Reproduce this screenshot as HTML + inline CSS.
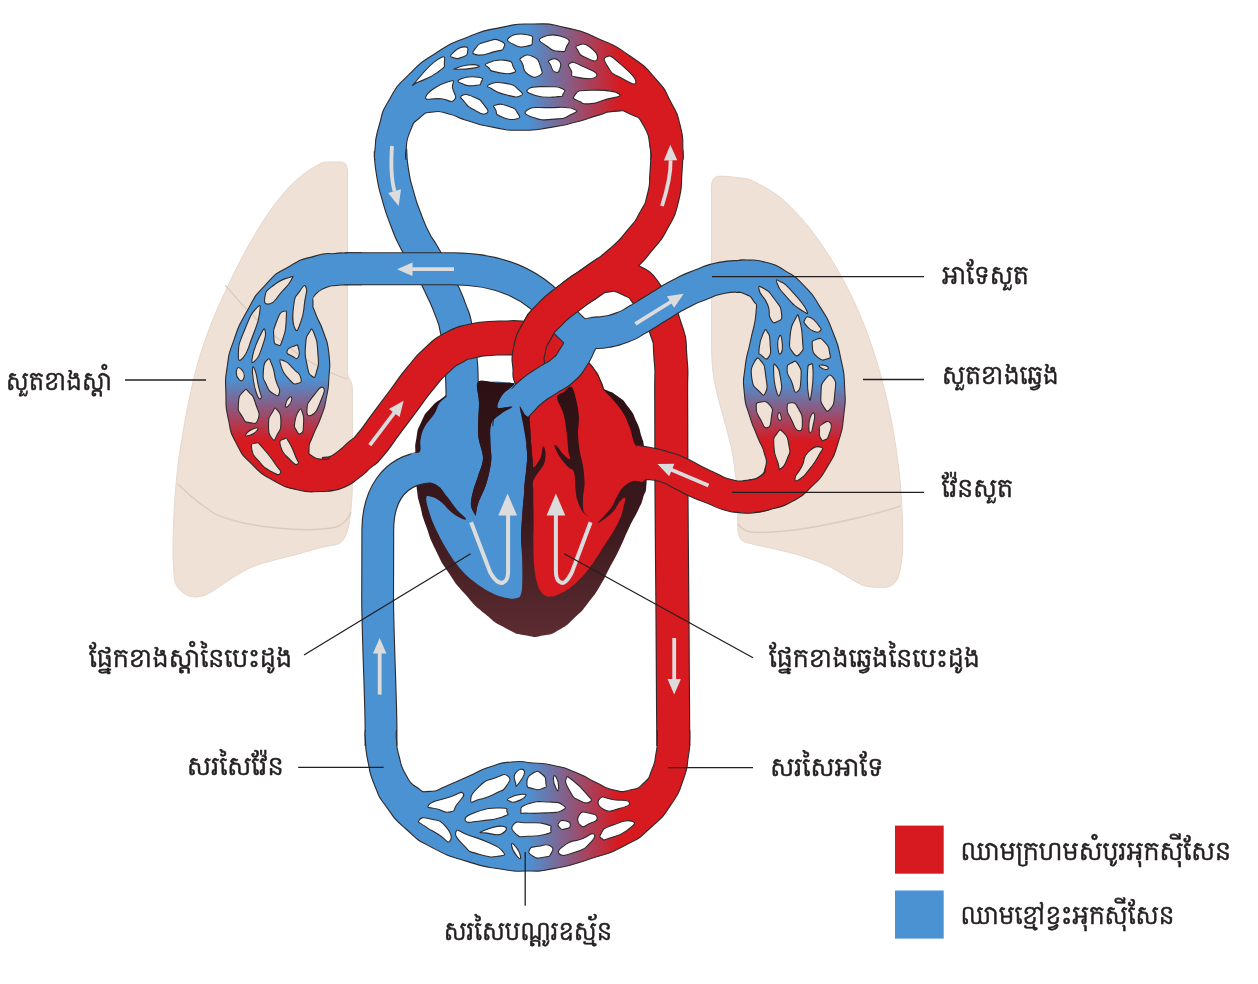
<!DOCTYPE html>
<html lang="km">
<head>
<meta charset="utf-8">
<title>ប្រព័ន្ធចរន្តឈាម</title>
<style>
html,body{margin:0;padding:0;background:#fff;}
body{width:1258px;height:984px;overflow:hidden;}
svg{display:block;}
</style>
</head>
<body>
<svg width="1258" height="984" viewBox="0 0 1258 984">
<rect width="1258" height="984" fill="#ffffff"/>
<defs>
<linearGradient id="gTop" gradientUnits="userSpaceOnUse" x1="528" y1="0" x2="620" y2="0"><stop offset="0" stop-color="#4b92d3"/><stop offset="1" stop-color="#d71920"/></linearGradient>
<linearGradient id="gBot" gradientUnits="userSpaceOnUse" x1="527" y1="0" x2="619" y2="0"><stop offset="0" stop-color="#4b92d3"/><stop offset="1" stop-color="#d71920"/></linearGradient>
<linearGradient id="gL" gradientUnits="userSpaceOnUse" x1="0" y1="378" x2="0" y2="441"><stop offset="0" stop-color="#4b92d3"/><stop offset="1" stop-color="#d71920"/></linearGradient>
<linearGradient id="gR" gradientUnits="userSpaceOnUse" x1="0" y1="381" x2="0" y2="442"><stop offset="0" stop-color="#4b92d3"/><stop offset="1" stop-color="#d71920"/></linearGradient>
<linearGradient id="gHeart" gradientUnits="userSpaceOnUse" x1="0" y1="380" x2="0" y2="635"><stop offset="0" stop-color="#2b1014"/><stop offset="0.55" stop-color="#3a191d"/><stop offset="1" stop-color="#5c2c31"/></linearGradient>
<filter id="fT" x="0" y="0" width="1258" height="984" filterUnits="userSpaceOnUse"><feOffset dx="0" dy="0"/></filter>
</defs>
<path d="M347.5,172 L347.5,374 C349,380 352.4,382 352.4,388 L352.4,482 C352,510 349,530 345,537 C341,545 335,545 330.5,545.6 C318,548 305,552 296,554.6 C270,561 255,565 247.6,569 C232,577 220,587 208.5,593.6 C201,597.5 193,597.5 189,596 C180,592 175.5,586 174.4,579 C172.5,562 173,545 173.4,530 C174,505 176,480 179,457 C184,425 190,390 198.8,359.5 C207,333 216,310 228,286 C240,260 255,232 272,208 C285,190 298,177 311,169 C318,164.5 322,162.5 326,162 L341,162 C345,162 347.5,165 347.5,172 Z" fill="#efe1d6" stroke="#e6d7cb" stroke-width="1"/>
<path d="M711.5,188 C711.5,180 714,176.5 719,176.3 C726,176 732,176.8 738,177.8 C742,178 745,178.3 747.4,178.7 C760,184 771,190 780.8,197.8 C795,210 808,225 819,240.8 C832,259 843,278 852.5,298.2 C862,318 870,339 876.4,360.4 C882,379 887,398 890.8,417.7 C895,440 898.5,462 900.4,484.7 C902,505 903,526 902.7,546.8 C902.5,558 901,569 898,577.9 C894,586 888,588 881.2,587.4 C874,587.5 868,587 862,585 C850,579 840,572 828.6,566 C814,559.5 800,555 785.6,551.6 C772,548 758,546 745,542 C740,540 737.8,535 737.8,527.7 L737.8,503.8 C737,488 735.5,472 733,456 C730.5,443 727,430 723.5,417.7 C720,405 716.5,392 714,379.5 C712,367 711.5,354 711.5,341 Z" fill="#efe1d6" stroke="#e6d7cb" stroke-width="1"/>
<path d="M225.4,285.4 C250,315 275,338 300,355.5 C318,367 334,375 347.5,378.9" fill="none" stroke="#dbcbbf" stroke-width="1.4"/>
<path d="M177.7,484 C190,496 202,506 216,514.3 C236,523 256,526 276.8,528 C300,530.5 322,530 336,527 C343,525 348,519 351,512" fill="none" stroke="#dbcbbf" stroke-width="1.4"/>
<path d="M737.8,524 C742,530 748,532.5 757,532.5 C775,532.5 792,530.5 809.5,527.7 C826,525 842,521.5 857.3,518 C872,514.5 887,510.5 900.4,506.2" fill="none" stroke="#dbcbbf" stroke-width="1.4"/>
<path d="M444.9,396.0 C435.9,403.5 438.9,398.7 431.0,407.4 C423.1,416.1 426.2,411.7 421.3,422.0 C416.4,432.3 418.4,427.3 416.4,438.3 C414.4,449.3 415.5,443.8 415.4,455.0 C415.3,466.2 415.5,460.3 416.0,472.0 C416.5,483.7 415.6,478.6 417.0,490.0 C418.4,501.4 417.3,494.4 420.3,506.3 C423.3,518.2 420.8,511.2 426.0,525.8 C431.2,540.4 428.2,534.5 435.8,550.2 C443.4,565.9 439.1,558.3 448.8,572.9 C458.5,587.5 453.1,580.4 465.0,594.0 C476.9,607.6 471.0,602.2 484.6,613.6 C498.2,625.0 491.6,620.9 505.7,628.2 C519.8,635.5 514.4,633.1 526.8,635.5 C539.2,637.9 532.2,637.4 543.0,635.5 C553.8,633.6 548.4,636.0 559.3,629.8 C570.2,623.6 565.8,626.0 575.6,616.8 C585.4,607.6 580.5,612.5 588.6,602.2 C596.7,591.9 593.2,597.1 600.0,586.0 C606.8,574.9 602.7,581.0 609.0,569.0 C615.3,557.0 612.3,563.7 619.0,550.0 C625.7,536.3 622.6,541.3 629.0,528.0 C635.4,514.7 633.5,519.9 638.2,510.0 C642.9,500.1 640.2,507.0 643.0,498.2 C645.8,489.4 645.7,495.7 646.5,483.6 C647.3,471.5 646.4,474.7 645.5,462.0 C644.6,449.3 645.2,453.9 643.9,445.4 C642.6,436.9 643.9,444.3 641.5,436.4 C639.1,428.5 640.9,431.5 636.6,421.8 C632.3,412.1 635.0,415.9 628.5,407.2 C622.0,398.5 625.2,401.9 617.0,395.8 C608.8,389.7 614.7,394.3 604.0,389.0 C593.3,383.7 601.3,383.3 585.0,380.0 C568.7,376.7 578.7,377.9 555.0,379.0 C531.3,380.1 539.7,382.3 514.0,383.4 C488.3,384.5 496.6,381.7 477.9,382.2 C459.2,382.7 469.0,380.4 458.0,385.0 C447.0,389.6 453.9,388.5 444.9,396.0Z" fill="url(#gHeart)" />
<path d="M381,746 L381,725 C380.5,690 378,640 377.6,600 L377.8,530 C378,498 392,470 428,467" fill="none" stroke="#2e2a2b" stroke-width="32.9"/>
<path d="M381,746 L381,725 C380.5,690 378,640 377.6,600 L377.8,530 C378,498 392,470 428,467" fill="none" stroke="#4b92d3" stroke-width="30.7"/>
<path d="M390.4,150.0 C391.1,157.3 390.0,156.7 392.5,172.0 C395.0,187.3 393.5,180.0 398.0,196.0 C402.5,212.0 400.4,205.3 406.0,220.0 C411.6,234.7 409.2,229.0 414.7,240.0 C420.2,251.0 416.7,243.0 422.5,253.0 C428.3,263.0 426.2,259.1 432.0,270.0 C437.8,280.9 433.9,272.5 440.0,285.7 C446.1,298.9 444.9,294.7 450.4,309.5 C455.9,324.3 453.1,314.5 456.5,330.0 C459.9,345.5 458.7,338.3 460.5,356.0 C462.3,373.7 461.4,364.3 462.0,383.0 C462.6,401.7 462.2,402.3 462.3,412.0" fill="none" stroke="#2e2a2b" stroke-width="33.6" stroke-linecap="butt"/>
<path d="M390.4,150.0 C391.1,157.3 390.0,156.7 392.5,172.0 C395.0,187.3 393.5,180.0 398.0,196.0 C402.5,212.0 400.4,205.3 406.0,220.0 C411.6,234.7 409.2,229.0 414.7,240.0 C420.2,251.0 416.7,243.0 422.5,253.0 C428.3,263.0 426.2,259.1 432.0,270.0 C437.8,280.9 433.9,272.5 440.0,285.7 C446.1,298.9 444.9,294.7 450.4,309.5 C455.9,324.3 453.1,314.5 456.5,330.0 C459.9,345.5 458.7,338.3 460.5,356.0 C462.3,373.7 461.4,364.3 462.0,383.0 C462.6,401.7 462.2,402.3 462.3,412.0" fill="none" stroke="#4b92d3" stroke-width="31.4" stroke-linecap="butt"/>
<path d="M325.0,474.3 C328.7,473.6 328.3,475.4 336.0,472.3 C343.7,469.2 340.0,470.9 348.0,465.0 C356.0,459.1 352.8,460.9 360.0,454.5 C367.2,448.1 360.8,456.2 369.7,445.7 C378.6,435.2 375.3,438.2 386.7,423.0 C398.1,407.8 392.5,415.2 403.8,400.2 C415.1,385.2 409.3,391.6 420.5,378.0 C431.7,364.4 426.3,369.7 437.5,359.5 C448.7,349.3 442.5,353.7 454.0,347.5 C465.5,341.3 460.0,344.0 472.0,341.0 C484.0,338.0 479.0,339.5 490.0,338.5 C501.0,337.5 494.7,338.2 505.0,338.0 C515.3,337.8 510.7,337.2 521.0,338.0 C531.3,338.8 526.3,337.3 536.0,340.5 C545.7,343.7 541.0,341.5 550.0,347.5 C559.0,353.5 554.9,350.4 563.0,358.5 C571.1,366.6 567.7,363.2 574.3,371.7 C580.9,380.2 578.4,375.6 582.8,384.0 C587.2,392.4 585.5,386.7 587.6,397.0 C589.7,407.3 588.5,409.0 589.0,415.0" fill="none" stroke="#2e2a2b" stroke-width="35.1" stroke-linecap="butt"/>
<path d="M325.0,474.3 C328.7,473.6 328.3,475.4 336.0,472.3 C343.7,469.2 340.0,470.9 348.0,465.0 C356.0,459.1 352.8,460.9 360.0,454.5 C367.2,448.1 360.8,456.2 369.7,445.7 C378.6,435.2 375.3,438.2 386.7,423.0 C398.1,407.8 392.5,415.2 403.8,400.2 C415.1,385.2 409.3,391.6 420.5,378.0 C431.7,364.4 426.3,369.7 437.5,359.5 C448.7,349.3 442.5,353.7 454.0,347.5 C465.5,341.3 460.0,344.0 472.0,341.0 C484.0,338.0 479.0,339.5 490.0,338.5 C501.0,337.5 494.7,338.2 505.0,338.0 C515.3,337.8 510.7,337.2 521.0,338.0 C531.3,338.8 526.3,337.3 536.0,340.5 C545.7,343.7 541.0,341.5 550.0,347.5 C559.0,353.5 554.9,350.4 563.0,358.5 C571.1,366.6 567.7,363.2 574.3,371.7 C580.9,380.2 578.4,375.6 582.8,384.0 C587.2,392.4 585.5,386.7 587.6,397.0 C589.7,407.3 588.5,409.0 589.0,415.0" fill="none" stroke="#d71920" stroke-width="32.9" stroke-linecap="butt"/>
<path d="M600.0,276.0 C609.3,277.0 611.0,271.0 628.0,279.0 C645.0,287.0 638.5,283.7 651.0,300.0 C663.5,316.3 659.0,308.7 665.5,328.0 C672.0,347.3 668.6,334.0 670.5,358.0 C672.4,382.0 670.9,359.3 671.2,400.0 C671.5,440.7 671.0,406.7 671.4,480.0 C671.8,553.3 671.9,531.3 672.5,620.0 C673.1,708.7 673.0,704.0 673.3,746.0" fill="none" stroke="#2e2a2b" stroke-width="34.1" stroke-linecap="butt"/>
<path d="M666.8,150.0 C666.5,157.3 667.3,156.1 666.0,172.0 C664.7,187.9 667.0,181.8 663.0,197.8 C659.0,213.8 661.7,205.9 654.0,220.0 C646.3,234.1 651.3,226.3 640.0,240.0 C628.7,253.7 634.7,248.0 620.0,261.0 C605.3,274.0 612.5,267.0 596.0,279.0 C579.5,291.0 586.3,284.8 570.5,297.0 C554.7,309.2 560.0,303.9 548.7,315.5 C537.4,327.1 542.9,320.6 536.6,331.7 C530.3,342.8 532.3,337.1 529.7,348.8 C527.1,360.5 527.7,355.0 528.8,366.7 C529.9,378.4 526.6,369.6 533.0,384.0 C539.4,398.4 543.0,401.3 548.0,410.0" fill="none" stroke="#2e2a2b" stroke-width="33.1" stroke-linecap="butt"/>
<path d="M600.0,276.0 C609.3,277.0 611.0,271.0 628.0,279.0 C645.0,287.0 638.5,283.7 651.0,300.0 C663.5,316.3 659.0,308.7 665.5,328.0 C672.0,347.3 668.6,334.0 670.5,358.0 C672.4,382.0 670.9,359.3 671.2,400.0 C671.5,440.7 671.0,406.7 671.4,480.0 C671.8,553.3 671.9,531.3 672.5,620.0 C673.1,708.7 673.0,704.0 673.3,746.0" fill="none" stroke="#d71920" stroke-width="31.9" stroke-linecap="butt"/>
<path d="M666.8,150.0 C666.5,157.3 667.3,156.1 666.0,172.0 C664.7,187.9 667.0,181.8 663.0,197.8 C659.0,213.8 661.7,205.9 654.0,220.0 C646.3,234.1 651.3,226.3 640.0,240.0 C628.7,253.7 634.7,248.0 620.0,261.0 C605.3,274.0 612.5,267.0 596.0,279.0 C579.5,291.0 586.3,284.8 570.5,297.0 C554.7,309.2 560.0,303.9 548.7,315.5 C537.4,327.1 542.9,320.6 536.6,331.7 C530.3,342.8 532.3,337.1 529.7,348.8 C527.1,360.5 527.7,355.0 528.8,366.7 C529.9,378.4 526.6,369.6 533.0,384.0 C539.4,398.4 543.0,401.3 548.0,410.0" fill="none" stroke="#d71920" stroke-width="30.9" stroke-linecap="butt"/>
<path d="M765.7,466.7 C763.9,469.9 766.6,471.7 760.2,476.3 C753.8,480.9 756.1,479.3 746.5,480.4 C736.9,481.5 741.7,482.0 731.3,479.5 C720.9,477.0 726.0,477.8 715.4,473.0 C704.8,468.2 710.1,470.5 699.5,465.2 C688.9,459.9 694.2,461.7 683.6,457.2 C673.0,452.7 678.3,454.9 667.7,451.7 C657.1,448.5 662.4,449.8 651.8,447.7 C641.2,445.6 641.2,446.1 635.9,445.3 L645.4,479.5 C650.2,480.2 649.6,478.3 659.7,481.5 C669.8,484.7 665.0,483.8 675.6,489.0 C686.2,494.2 680.9,492.2 691.5,497.0 C702.1,501.8 696.8,499.1 707.4,503.3 C718.0,507.5 712.7,506.6 723.3,509.7 C733.9,512.8 728.6,511.6 739.2,512.6 C749.8,513.6 744.4,513.7 755.0,512.6 C765.6,511.5 765.7,510.3 771.0,509.2Z" fill="#d71920"/>
<path d="M765.7,466.7 C763.9,469.9 766.6,471.7 760.2,476.3 C753.8,480.9 756.1,479.3 746.5,480.4 C736.9,481.5 741.7,482.0 731.3,479.5 C720.9,477.0 726.0,477.8 715.4,473.0 C704.8,468.2 710.1,470.5 699.5,465.2 C688.9,459.9 694.2,461.7 683.6,457.2 C673.0,452.7 678.3,454.9 667.7,451.7 C657.1,448.5 662.4,449.8 651.8,447.7 C641.2,445.6 641.2,446.1 635.9,445.3" fill="none" stroke="#2e2a2b" stroke-width="1.1"/>
<path d="M771.0,509.2 C765.7,510.3 765.6,511.5 755.0,512.6 C744.4,513.7 749.8,513.6 739.2,512.6 C728.6,511.6 733.9,512.8 723.3,509.7 C712.7,506.6 718.0,507.5 707.4,503.3 C696.8,499.1 702.1,501.8 691.5,497.0 C680.9,492.2 686.2,494.2 675.6,489.0 C665.0,483.8 669.8,484.7 659.7,481.5 C649.6,478.3 650.2,480.2 645.4,479.5" fill="none" stroke="#2e2a2b" stroke-width="1.1"/>
<path d="M444.9,398.0 C436.2,404.2 438.4,408.1 434.3,413.9 C430.2,419.7 427.4,421.7 424.6,426.9 C421.8,432.1 421.5,434.9 420.5,439.9 C419.5,444.9 421.8,448.8 419.7,452.0 C417.6,455.2 411.9,450.0 410.0,456.0 C408.1,462.0 407.1,476.8 410.0,482.0 C412.9,487.2 419.1,481.3 424.6,482.0 C430.1,482.7 433.1,482.4 437.6,485.4 C442.1,488.4 443.4,491.9 447.3,496.8 C451.2,501.7 453.3,505.4 457.0,509.8 C460.7,514.2 465.3,517.2 466.0,518.8 C466.7,520.4 463.4,519.5 460.3,518.0 C457.2,516.5 454.5,514.8 450.6,511.5 C446.7,508.2 444.7,504.6 440.8,501.7 C436.9,498.8 433.9,497.4 431.0,496.8 C428.1,496.2 426.4,495.0 426.2,498.5 C426.0,502.0 427.8,507.6 430.0,514.4 C432.2,521.2 434.0,525.1 437.4,532.3 C440.8,539.5 443.0,543.4 447.2,550.2 C451.4,557.0 453.3,560.2 458.5,566.4 C463.7,572.6 466.7,575.8 473.2,581.0 C479.7,586.2 484.2,589.0 491.0,592.4 C497.8,595.8 502.1,596.9 507.3,598.0 C512.5,599.1 514.3,598.8 517.0,598.0 C519.7,597.2 519.9,597.4 521.0,594.0 C522.1,590.6 522.1,588.8 522.3,581.0 C522.5,573.2 522.3,563.4 522.0,555.0 C521.7,546.6 520.9,546.9 521.0,538.8 C521.1,530.7 521.6,524.2 522.3,514.4 C523.0,504.6 523.5,500.7 524.4,490.0 C525.3,479.3 526.6,470.4 527.0,461.0 C527.4,451.6 527.0,450.7 526.2,443.2 C525.4,435.7 524.3,431.0 523.0,423.7 C521.7,416.4 518.3,412.1 519.7,406.6 C521.1,401.1 530.9,400.5 530.0,396.0 C529.1,391.5 525.4,386.6 515.0,384.0 C504.6,381.4 492.0,380.2 478.0,383.0 C464.0,385.8 453.6,391.8 444.9,398.0Z" fill="#4b92d3" />
<path d="M529.3,420.0 C527.5,428.7 530.3,433.1 530.9,441.3 C531.5,449.5 532.2,452.3 532.5,460.8 C532.8,469.3 532.3,477.8 532.5,483.6 C532.7,489.4 533.3,483.8 533.3,490.0 C533.3,496.2 532.5,504.6 532.5,514.4 C532.5,524.2 533.0,529.0 533.3,538.8 C533.6,548.6 533.3,554.8 534.0,563.2 C534.7,571.6 535.1,575.2 536.6,581.0 C538.1,586.8 538.9,589.3 541.5,592.4 C544.1,595.5 546.0,596.2 549.6,596.5 C553.2,596.8 554.7,596.1 559.3,594.0 C563.9,591.9 567.2,590.2 572.4,586.0 C577.6,581.8 580.9,578.2 585.4,573.0 C589.9,567.8 591.3,565.4 595.0,560.0 C598.7,554.6 600.4,551.6 604.0,546.0 C607.6,540.4 609.7,537.6 613.0,532.0 C616.3,526.4 618.2,523.1 620.3,518.0 C622.4,512.9 622.6,510.3 623.6,506.3 C624.6,502.3 625.9,499.3 625.2,498.2 C624.5,497.1 622.5,498.5 620.3,501.0 C618.1,503.5 616.7,507.3 614.0,510.5 C611.3,513.7 610.2,514.5 607.0,517.0 C603.8,519.5 598.6,523.2 598.0,523.0 C597.4,522.8 601.2,519.3 604.0,516.0 C606.8,512.7 609.6,510.2 612.2,506.3 C614.8,502.4 614.7,500.5 617.0,496.6 C619.3,492.7 620.3,489.9 623.6,486.8 C626.9,483.7 629.1,482.3 633.3,481.0 C637.5,479.7 642.2,484.1 644.7,480.3 C647.2,476.5 647.9,469.1 646.0,462.0 C644.1,454.9 638.2,451.3 635.0,444.6 C631.8,437.9 632.3,434.5 630.0,428.3 C627.7,422.1 626.8,419.2 623.6,413.7 C620.4,408.2 617.7,405.4 613.8,400.7 C609.9,396.0 606.6,393.9 604.0,390.0 C601.4,386.1 602.4,384.8 600.8,381.0 C599.2,377.2 599.0,373.6 596.0,371.0 C593.0,368.4 593.2,366.6 586.0,368.0 C578.8,369.4 569.2,372.0 560.0,378.0 C550.8,384.0 546.1,389.6 540.0,398.0 C533.9,406.4 531.1,411.3 529.3,420.0Z" fill="#d71920" />
<path d="M583.0,357.0 C585.2,359.2 585.0,358.2 589.5,363.5 C594.0,368.8 592.7,366.7 596.5,373.0 C600.3,379.3 598.5,376.7 601.0,382.5 C603.5,388.3 603.0,387.8 604.0,390.5" fill="none" stroke="#2e2a2b" stroke-width="1.1"/>
<path d="M477.9,382.2 C480.7,378.9 490.0,382.5 496.0,382.8 C502.0,383.1 512.9,381.9 514.0,383.8 C515.1,385.7 505.3,390.5 502.6,394.4 C499.9,398.3 496.1,405.4 497.7,407.4 C499.3,409.4 511.8,405.5 512.4,406.6 C512.9,407.7 504.5,411.0 501.0,413.9 C497.5,416.8 493.0,418.8 491.2,423.7 C489.4,428.6 490.4,437.0 490.4,443.2 C490.4,449.4 491.9,454.2 491.2,461.0 C490.5,467.8 488.5,476.8 486.3,483.8 C484.1,490.9 479.9,498.1 478.2,503.3 C476.4,508.5 476.3,512.8 475.8,514.7 C475.3,516.6 475.8,516.3 475.0,514.7 C474.2,513.1 471.2,509.1 470.9,505.0 C470.6,500.9 472.1,495.2 473.3,490.3 C474.5,485.4 476.6,481.1 478.2,475.7 C479.8,470.3 483.0,464.6 483.0,457.8 C483.0,451.0 478.9,444.2 478.2,435.0 C477.5,425.8 479.1,411.3 479.0,402.5 C478.9,393.7 475.1,385.5 477.9,382.2Z" fill="url(#gHeart)" />
<path d="M519.7,406.6 C520.0,405.0 522.9,411.8 524.5,414.0 C526.1,416.2 528.2,415.4 529.3,420.0 C530.4,424.6 530.4,434.5 530.9,441.3 C531.4,448.1 532.0,456.5 532.5,460.8 C533.0,465.1 532.6,467.8 534.0,467.3 C535.4,466.8 539.1,461.1 540.6,457.6 C542.1,454.1 542.2,447.0 543.0,446.2 C543.8,445.4 545.3,449.7 545.5,452.7 C545.7,455.7 545.4,460.5 544.0,464.0 C542.6,467.5 539.3,470.5 537.4,473.8 C535.5,477.1 533.2,479.2 532.5,483.6 C531.8,488.0 533.3,490.6 533.3,500.0 C533.3,509.4 534.4,533.3 532.5,540.0 C530.6,546.7 523.7,544.3 522.0,540.0 C520.3,535.7 521.9,522.7 522.3,514.4 C522.7,506.1 523.6,498.9 524.4,490.0 C525.2,481.1 526.7,468.8 527.0,461.0 C527.3,453.2 526.9,449.4 526.2,443.2 C525.5,437.0 524.1,429.8 523.0,423.7 C521.9,417.6 519.5,408.2 519.7,406.6Z" fill="url(#gHeart)" />
<path d="M557.0,397.4 C557.1,393.8 561.6,393.8 564.0,392.0 C566.4,390.2 569.4,385.4 571.5,386.8 C573.6,388.2 575.2,395.7 576.4,400.7 C577.6,405.7 578.6,411.5 578.9,416.9 C579.2,422.3 577.9,427.5 578.0,433.2 C578.1,438.9 578.9,445.6 579.7,451.0 C580.5,456.4 582.2,460.3 583.0,465.7 C583.8,471.1 584.6,478.2 584.6,483.6 C584.6,489.0 583.1,493.6 583.0,498.2 C582.9,502.8 582.8,508.1 583.7,511.2 C584.6,514.3 588.9,516.8 588.6,516.8 C588.3,516.8 583.9,513.8 582.0,511.0 C580.1,508.2 578.3,503.3 577.2,499.8 C576.1,496.3 576.1,494.6 575.6,490.0 C575.1,485.4 575.2,476.0 574.0,472.2 C572.8,468.4 570.6,469.7 568.3,467.3 C566.0,464.9 562.5,461.1 560.2,457.6 C557.9,454.1 555.0,448.1 554.5,446.2 C554.0,444.3 555.5,444.8 557.0,446.2 C558.5,447.6 561.2,452.1 563.4,454.3 C565.6,456.5 569.2,459.8 570.0,459.2 C570.8,458.6 568.8,455.3 568.3,451.0 C567.8,446.7 567.5,439.4 566.7,433.2 C565.9,427.0 565.0,419.7 563.4,413.7 C561.8,407.7 556.9,401.0 557.0,397.4Z" fill="url(#gHeart)" />
<path d="M345,268.8 L452,268.8 C500,268.8 536,284 561,318 L584,340" fill="none" stroke="#2e2a2b" stroke-width="33.1"/>
<path d="M508.0,430.0 C509.3,424.7 507.3,423.7 512.0,414.0 C516.7,404.3 514.8,409.1 522.0,401.0 C529.2,392.9 525.0,396.7 533.7,389.7 C542.4,382.7 538.2,386.5 548.0,380.0 C557.8,373.5 554.7,377.5 563.0,370.2 C571.3,362.9 567.3,366.6 573.0,358.0 C578.7,349.4 576.5,351.8 580.2,344.5 C583.9,337.2 582.7,338.8 584.0,336.0" fill="none" stroke="#2e2a2b" stroke-width="32.6"/>
<path d="M584.0,336.0 C587.3,335.0 587.0,334.3 594.0,333.0 C601.0,331.7 595.7,333.8 605.0,332.0 C614.3,330.2 611.0,331.8 622.0,327.6 C633.0,323.4 628.7,324.5 638.0,319.3 C647.3,314.1 641.8,317.0 650.0,312.0 C658.2,307.0 652.6,310.2 662.6,304.2 C672.6,298.2 667.5,300.4 680.0,294.0 C692.5,287.6 686.0,290.4 700.0,285.0 C714.0,279.6 708.0,280.6 722.0,277.8 C736.0,275.0 735.3,277.0 742.0,276.6" fill="none" stroke="#2e2a2b" stroke-width="32.6"/>
<path d="M345,268.8 L452,268.8 C500,268.8 536,284 561,318 L584,340" fill="none" stroke="#4b92d3" stroke-width="30.9"/>
<path d="M508.0,430.0 C509.3,424.7 507.3,423.7 512.0,414.0 C516.7,404.3 514.8,409.1 522.0,401.0 C529.2,392.9 525.0,396.7 533.7,389.7 C542.4,382.7 538.2,386.5 548.0,380.0 C557.8,373.5 554.7,377.5 563.0,370.2 C571.3,362.9 567.3,366.6 573.0,358.0 C578.7,349.4 576.5,351.8 580.2,344.5 C583.9,337.2 582.7,338.8 584.0,336.0" fill="none" stroke="#4b92d3" stroke-width="30.4" stroke-linecap="round"/>
<path d="M584.0,336.0 C587.3,335.0 587.0,334.3 594.0,333.0 C601.0,331.7 595.7,333.8 605.0,332.0 C614.3,330.2 611.0,331.8 622.0,327.6 C633.0,323.4 628.7,324.5 638.0,319.3 C647.3,314.1 641.8,317.0 650.0,312.0 C658.2,307.0 652.6,310.2 662.6,304.2 C672.6,298.2 667.5,300.4 680.0,294.0 C692.5,287.6 686.0,290.4 700.0,285.0 C714.0,279.6 708.0,280.6 722.0,277.8 C736.0,275.0 735.3,277.0 742.0,276.6" fill="none" stroke="#4b92d3" stroke-width="30.4"/>
<circle cx="584" cy="337" r="13.5" fill="#4b92d3"/>
<clipPath id="cpB"><path d="M500,345 L548,345 L560,338 L598,302 L598,250 L560,262 L500,300Z"/></clipPath>
<g clip-path="url(#cpB)"><path d="M666.8,150.0 C666.5,157.3 667.3,156.1 666.0,172.0 C664.7,187.9 667.0,181.8 663.0,197.8 C659.0,213.8 661.7,205.9 654.0,220.0 C646.3,234.1 651.3,226.3 640.0,240.0 C628.7,253.7 634.7,248.0 620.0,261.0 C605.3,274.0 612.5,267.0 596.0,279.0 C579.5,291.0 586.3,284.8 570.5,297.0 C554.7,309.2 560.0,303.9 548.7,315.5 C537.4,327.1 542.9,320.6 536.6,331.7 C530.3,342.8 532.3,337.1 529.7,348.8 C527.1,360.5 527.7,355.0 528.8,366.7 C529.9,378.4 526.6,369.6 533.0,384.0 C539.4,398.4 543.0,401.3 548.0,410.0" fill="none" stroke="#2e2a2b" stroke-width="33.1"/><path d="M666.8,150.0 C666.5,157.3 667.3,156.1 666.0,172.0 C664.7,187.9 667.0,181.8 663.0,197.8 C659.0,213.8 661.7,205.9 654.0,220.0 C646.3,234.1 651.3,226.3 640.0,240.0 C628.7,253.7 634.7,248.0 620.0,261.0 C605.3,274.0 612.5,267.0 596.0,279.0 C579.5,291.0 586.3,284.8 570.5,297.0 C554.7,309.2 560.0,303.9 548.7,315.5 C537.4,327.1 542.9,320.6 536.6,331.7 C530.3,342.8 532.3,337.1 529.7,348.8 C527.1,360.5 527.7,355.0 528.8,366.7 C529.9,378.4 526.6,369.6 533.0,384.0 C539.4,398.4 543.0,401.3 548.0,410.0" fill="none" stroke="#d71920" stroke-width="30.9"/></g>
<path d="M497.0,408.0 C500.2,396.0 507.8,389.6 514.0,388.0 C520.2,386.4 525.4,392.6 528.0,400.0 C530.6,407.4 527.8,415.4 527.0,425.0 C526.2,434.6 529.8,443.4 524.0,448.0 C518.2,452.6 503.4,456.0 498.0,448.0 C492.6,440.0 493.8,420.0 497.0,408.0Z" fill="#4b92d3" />
<path d="M477.9,382.2 C480.7,378.9 490.0,382.5 496.0,382.8 C502.0,383.1 512.9,381.9 514.0,383.8 C515.1,385.7 505.3,390.5 502.6,394.4 C499.9,398.3 496.1,405.4 497.7,407.4 C499.3,409.4 511.8,405.5 512.4,406.6 C512.9,407.7 504.5,411.0 501.0,413.9 C497.5,416.8 493.0,418.8 491.2,423.7 C489.4,428.6 490.4,437.0 490.4,443.2 C490.4,449.4 491.9,454.2 491.2,461.0 C490.5,467.8 488.5,476.8 486.3,483.8 C484.1,490.9 479.9,498.1 478.2,503.3 C476.4,508.5 476.3,512.8 475.8,514.7 C475.3,516.6 475.8,516.3 475.0,514.7 C474.2,513.1 471.2,509.1 470.9,505.0 C470.6,500.9 472.1,495.2 473.3,490.3 C474.5,485.4 476.6,481.1 478.2,475.7 C479.8,470.3 483.0,464.6 483.0,457.8 C483.0,451.0 478.9,444.2 478.2,435.0 C477.5,425.8 479.1,411.3 479.0,402.5 C478.9,393.7 475.1,385.5 477.9,382.2Z" fill="url(#gHeart)" />
<path d="M519.7,406.6 C520.0,405.0 522.9,411.8 524.5,414.0 C526.1,416.2 528.2,415.4 529.3,420.0 C530.4,424.6 530.4,434.5 530.9,441.3 C531.4,448.1 532.2,453.8 532.5,460.8 C532.8,467.9 533.9,478.7 532.5,483.6 C531.1,488.5 525.3,493.8 524.4,490.0 C523.5,486.2 526.7,468.8 527.0,461.0 C527.3,453.2 526.9,449.4 526.2,443.2 C525.5,437.0 524.1,429.8 523.0,423.7 C521.9,417.6 519.5,408.2 519.7,406.6Z" fill="url(#gHeart)" />
<path d="M374.9,160.0 C374.9,156.7 373.5,161.3 374.9,150.0 C376.3,138.7 374.1,143.0 379.0,126.0 C383.9,109.0 379.8,116.0 389.7,99.0 C399.6,82.0 393.3,90.2 408.6,74.9 C423.9,59.6 415.9,65.8 435.7,53.2 C455.5,40.6 446.4,45.5 468.0,37.0 C489.6,28.5 478.8,31.9 500.5,27.6 C522.2,23.3 511.4,24.0 533.0,24.0 C554.6,24.0 543.8,22.8 565.4,27.6 C587.0,32.4 576.3,28.9 597.8,38.4 C619.3,47.9 611.1,42.9 630.0,56.0 C648.9,69.1 641.0,62.3 654.6,77.6 C668.2,92.9 662.2,85.8 670.8,101.9 C679.4,118.0 676.2,110.0 680.3,126.0 C684.4,142.0 682.1,138.7 683.0,150.0 C683.9,161.3 683.0,156.7 683.0,160.0 L650.5,160.0 C650.5,156.7 652.7,161.3 650.5,150.0 C648.3,138.7 650.6,138.0 643.8,126.0 C637.0,114.0 639.9,118.9 630.0,114.0 C620.1,109.1 624.7,110.9 614.0,111.4 C603.3,111.9 610.5,111.9 597.8,115.4 C585.1,118.9 592.3,117.9 576.0,122.0 C559.7,126.1 567.0,124.8 549.0,127.6 C531.0,130.4 540.0,130.3 522.0,130.3 C504.0,130.3 513.0,130.8 495.0,127.6 C477.0,124.4 483.3,125.3 468.0,120.8 C452.7,116.3 460.7,116.9 449.0,114.0 C437.3,111.1 442.8,110.7 433.0,112.0 C423.2,113.3 427.2,111.5 419.5,118.0 C411.8,124.5 414.5,120.9 410.0,131.6 C405.5,142.3 407.3,140.5 406.0,150.0 C404.7,159.5 406.0,156.7 406.0,160.0Z M416.3,81.0 C422.7,73.6 428.6,65.3 437.9,59.4 C447.3,53.5 444.3,59.0 444.3,63.2 C444.3,67.5 446.4,65.9 437.9,72.1 C429.5,78.3 426.1,78.8 418.9,81.8 C411.7,84.7 410.0,88.5 416.3,81.0Z M452.4,53.3 C455.8,49.6 458.7,47.3 463.8,46.9 C468.9,46.5 468.0,48.6 467.6,52.0 C467.2,55.4 467.2,55.1 462.5,57.1 C457.9,59.0 457.0,59.1 453.6,57.8 C450.3,56.6 449.0,56.9 452.4,53.3Z M475.8,47.8 C479.1,43.3 479.1,43.8 487.2,41.5 C495.2,39.1 494.4,38.6 499.9,40.7 C505.4,42.8 505.4,44.2 503.7,47.8 C502.0,51.5 503.7,49.3 494.8,51.6 C485.9,54.0 483.4,56.2 477.0,54.9 C470.7,53.7 472.4,52.3 475.8,47.8Z M509.5,37.3 C513.7,33.9 519.6,33.4 527.2,34.7 C534.9,36.0 532.3,37.3 532.3,41.1 C532.3,44.9 533.2,44.9 527.2,46.1 C521.3,47.4 520.5,47.8 514.5,44.9 C508.6,41.9 505.2,40.6 509.5,37.3Z M542.0,37.4 C547.9,34.5 556.8,34.1 564.8,37.4 C572.9,40.8 567.8,43.0 566.1,47.6 C564.4,52.3 566.1,51.8 559.8,51.4 C553.4,51.0 553.0,51.0 547.1,46.3 C541.1,41.7 536.0,40.4 542.0,37.4Z M578.0,45.5 C581.8,44.3 583.1,42.2 589.5,46.8 C595.8,51.5 598.8,56.1 597.1,59.5 C595.4,62.9 590.7,59.9 584.4,57.0 C578.0,54.0 580.2,54.4 578.0,50.6 C575.9,46.8 574.2,46.8 578.0,45.5Z M606.7,56.7 C610.5,55.5 609.6,54.6 619.4,63.1 C629.1,71.6 635.9,77.5 635.9,82.1 C635.9,86.8 628.7,82.1 619.4,77.1 C610.0,72.0 612.2,73.7 607.9,66.9 C603.7,60.1 602.8,58.0 606.7,56.7Z M456.6,68.1 C460.0,66.6 460.8,65.9 468.0,65.0 C475.2,64.2 476.5,64.5 478.2,65.5 C479.9,66.5 479.9,66.8 473.1,68.1 C466.3,69.3 463.4,69.3 457.9,69.3 C452.4,69.3 453.2,69.5 456.6,68.1Z M487.8,63.0 C493.3,60.4 497.2,59.2 505.6,60.4 C514.1,61.7 511.1,62.5 513.2,66.8 C515.4,71.0 517.9,71.4 512.0,73.1 C506.0,74.8 503.1,73.6 495.5,71.9 C487.8,70.2 491.6,71.0 489.1,68.1 C486.6,65.1 482.3,65.5 487.8,63.0Z M521.4,57.8 C524.8,55.3 526.5,53.6 532.8,56.5 C539.2,59.5 538.3,60.4 540.5,66.7 C542.6,73.1 543.4,73.1 539.2,75.6 C535.0,78.1 533.3,78.1 527.8,74.3 C522.3,70.5 524.8,69.7 522.7,64.2 C520.6,58.7 518.0,60.4 521.4,57.8Z M549.5,60.3 C552.1,58.6 555.0,57.4 558.4,60.3 C561.8,63.3 560.9,65.4 559.7,69.2 C558.4,73.0 557.6,73.0 554.6,71.8 C551.6,70.5 552.5,69.2 550.8,65.4 C549.1,61.6 547.0,62.0 549.5,60.3Z M570.0,63.2 C573.4,61.5 572.6,61.5 581.5,65.7 C590.4,69.9 598.4,72.1 596.7,75.9 C595.0,79.7 584.9,78.8 576.4,77.1 C567.9,75.5 573.4,75.5 571.3,70.8 C569.2,66.1 566.7,64.9 570.0,63.2Z M426.0,96.3 C428.6,90.5 440.0,84.1 448.9,81.5 C457.8,79.0 451.0,82.5 452.7,88.7 C454.4,94.8 457.8,96.7 454.0,100.1 C450.2,103.5 450.6,100.1 441.3,98.8 C432.0,97.6 423.5,102.0 426.0,96.3Z M460.7,79.1 C465.8,76.8 471.7,76.2 478.5,77.3 C485.3,78.4 481.9,79.7 481.0,82.4 C480.2,85.1 481.9,84.8 476.0,85.4 C470.0,86.0 468.3,86.3 463.3,84.2 C458.2,82.0 455.6,81.4 460.7,79.1Z M489.4,84.6 C493.6,82.5 496.2,81.7 505.9,83.4 C515.7,85.1 514.0,85.5 518.6,89.7 C523.3,94.0 524.1,94.4 519.9,96.1 C515.7,97.8 514.8,96.9 505.9,94.8 C497.0,92.7 498.7,93.1 493.2,89.7 C487.7,86.3 485.2,86.8 489.4,84.6Z M528.9,88.6 C533.1,85.6 538.2,86.8 549.2,86.8 C560.2,86.8 557.2,86.3 561.9,88.6 C566.6,90.9 564.9,90.9 563.2,93.7 C561.5,96.4 565.7,96.0 556.8,96.7 C547.9,97.4 545.8,98.4 536.5,95.7 C527.2,93.0 524.6,91.5 528.9,88.6Z M574.7,95.3 C578.0,91.5 575.1,90.6 589.9,90.2 C604.7,89.8 614.9,90.6 619.1,94.0 C623.4,97.4 612.3,97.1 602.6,100.4 C592.9,103.6 597.5,103.2 589.9,103.7 C582.3,104.1 584.8,104.4 579.7,101.6 C574.7,98.8 571.3,99.1 574.7,95.3Z M462.1,95.6 C465.1,94.0 466.3,94.0 473.5,96.9 C480.7,99.9 479.5,99.0 483.7,104.5 C487.9,110.0 489.6,111.7 486.2,113.4 C482.9,115.1 480.7,113.4 473.5,109.6 C466.3,105.8 468.5,106.7 464.6,102.0 C460.8,97.3 459.1,97.3 462.1,95.6Z M495.8,105.0 C500.0,103.7 501.3,103.7 508.5,106.3 C515.7,108.8 514.8,108.4 517.4,112.6 C519.9,116.9 521.6,117.7 516.1,119.0 C510.6,120.3 507.6,119.4 500.9,116.4 C494.1,113.5 497.5,113.9 495.8,110.1 C494.1,106.3 491.5,106.3 495.8,105.0Z M527.7,109.7 C532.8,106.3 534.1,107.9 549.3,107.6 C564.6,107.4 566.7,106.4 573.5,108.9 C580.2,111.5 576.0,111.9 569.6,115.3 C563.3,118.7 566.3,118.2 554.4,119.1 C542.5,119.9 543.0,120.9 534.1,117.8 C525.2,114.7 522.6,113.1 527.7,109.7Z" fill="url(#gTop)" fill-rule="evenodd"/>
<path d="M374.9,160.0 C374.9,156.7 373.5,161.3 374.9,150.0 C376.3,138.7 374.1,143.0 379.0,126.0 C383.9,109.0 379.8,116.0 389.7,99.0 C399.6,82.0 393.3,90.2 408.6,74.9 C423.9,59.6 415.9,65.8 435.7,53.2 C455.5,40.6 446.4,45.5 468.0,37.0 C489.6,28.5 478.8,31.9 500.5,27.6 C522.2,23.3 511.4,24.0 533.0,24.0 C554.6,24.0 543.8,22.8 565.4,27.6 C587.0,32.4 576.3,28.9 597.8,38.4 C619.3,47.9 611.1,42.9 630.0,56.0 C648.9,69.1 641.0,62.3 654.6,77.6 C668.2,92.9 662.2,85.8 670.8,101.9 C679.4,118.0 676.2,110.0 680.3,126.0 C684.4,142.0 682.1,138.7 683.0,150.0 C683.9,161.3 683.0,156.7 683.0,160.0 M650.5,160.0 C650.5,156.7 652.7,161.3 650.5,150.0 C648.3,138.7 650.6,138.0 643.8,126.0 C637.0,114.0 639.9,118.9 630.0,114.0 C620.1,109.1 624.7,110.9 614.0,111.4 C603.3,111.9 610.5,111.9 597.8,115.4 C585.1,118.9 592.3,117.9 576.0,122.0 C559.7,126.1 567.0,124.8 549.0,127.6 C531.0,130.4 540.0,130.3 522.0,130.3 C504.0,130.3 513.0,130.8 495.0,127.6 C477.0,124.4 483.3,125.3 468.0,120.8 C452.7,116.3 460.7,116.9 449.0,114.0 C437.3,111.1 442.8,110.7 433.0,112.0 C423.2,113.3 427.2,111.5 419.5,118.0 C411.8,124.5 414.5,120.9 410.0,131.6 C405.5,142.3 407.3,140.5 406.0,150.0 C404.7,159.5 406.0,156.7 406.0,160.0 M416.3,81.0 C422.7,73.6 428.6,65.3 437.9,59.4 C447.3,53.5 444.3,59.0 444.3,63.2 C444.3,67.5 446.4,65.9 437.9,72.1 C429.5,78.3 426.1,78.8 418.9,81.8 C411.7,84.7 410.0,88.5 416.3,81.0Z M452.4,53.3 C455.8,49.6 458.7,47.3 463.8,46.9 C468.9,46.5 468.0,48.6 467.6,52.0 C467.2,55.4 467.2,55.1 462.5,57.1 C457.9,59.0 457.0,59.1 453.6,57.8 C450.3,56.6 449.0,56.9 452.4,53.3Z M475.8,47.8 C479.1,43.3 479.1,43.8 487.2,41.5 C495.2,39.1 494.4,38.6 499.9,40.7 C505.4,42.8 505.4,44.2 503.7,47.8 C502.0,51.5 503.7,49.3 494.8,51.6 C485.9,54.0 483.4,56.2 477.0,54.9 C470.7,53.7 472.4,52.3 475.8,47.8Z M509.5,37.3 C513.7,33.9 519.6,33.4 527.2,34.7 C534.9,36.0 532.3,37.3 532.3,41.1 C532.3,44.9 533.2,44.9 527.2,46.1 C521.3,47.4 520.5,47.8 514.5,44.9 C508.6,41.9 505.2,40.6 509.5,37.3Z M542.0,37.4 C547.9,34.5 556.8,34.1 564.8,37.4 C572.9,40.8 567.8,43.0 566.1,47.6 C564.4,52.3 566.1,51.8 559.8,51.4 C553.4,51.0 553.0,51.0 547.1,46.3 C541.1,41.7 536.0,40.4 542.0,37.4Z M578.0,45.5 C581.8,44.3 583.1,42.2 589.5,46.8 C595.8,51.5 598.8,56.1 597.1,59.5 C595.4,62.9 590.7,59.9 584.4,57.0 C578.0,54.0 580.2,54.4 578.0,50.6 C575.9,46.8 574.2,46.8 578.0,45.5Z M606.7,56.7 C610.5,55.5 609.6,54.6 619.4,63.1 C629.1,71.6 635.9,77.5 635.9,82.1 C635.9,86.8 628.7,82.1 619.4,77.1 C610.0,72.0 612.2,73.7 607.9,66.9 C603.7,60.1 602.8,58.0 606.7,56.7Z M456.6,68.1 C460.0,66.6 460.8,65.9 468.0,65.0 C475.2,64.2 476.5,64.5 478.2,65.5 C479.9,66.5 479.9,66.8 473.1,68.1 C466.3,69.3 463.4,69.3 457.9,69.3 C452.4,69.3 453.2,69.5 456.6,68.1Z M487.8,63.0 C493.3,60.4 497.2,59.2 505.6,60.4 C514.1,61.7 511.1,62.5 513.2,66.8 C515.4,71.0 517.9,71.4 512.0,73.1 C506.0,74.8 503.1,73.6 495.5,71.9 C487.8,70.2 491.6,71.0 489.1,68.1 C486.6,65.1 482.3,65.5 487.8,63.0Z M521.4,57.8 C524.8,55.3 526.5,53.6 532.8,56.5 C539.2,59.5 538.3,60.4 540.5,66.7 C542.6,73.1 543.4,73.1 539.2,75.6 C535.0,78.1 533.3,78.1 527.8,74.3 C522.3,70.5 524.8,69.7 522.7,64.2 C520.6,58.7 518.0,60.4 521.4,57.8Z M549.5,60.3 C552.1,58.6 555.0,57.4 558.4,60.3 C561.8,63.3 560.9,65.4 559.7,69.2 C558.4,73.0 557.6,73.0 554.6,71.8 C551.6,70.5 552.5,69.2 550.8,65.4 C549.1,61.6 547.0,62.0 549.5,60.3Z M570.0,63.2 C573.4,61.5 572.6,61.5 581.5,65.7 C590.4,69.9 598.4,72.1 596.7,75.9 C595.0,79.7 584.9,78.8 576.4,77.1 C567.9,75.5 573.4,75.5 571.3,70.8 C569.2,66.1 566.7,64.9 570.0,63.2Z M426.0,96.3 C428.6,90.5 440.0,84.1 448.9,81.5 C457.8,79.0 451.0,82.5 452.7,88.7 C454.4,94.8 457.8,96.7 454.0,100.1 C450.2,103.5 450.6,100.1 441.3,98.8 C432.0,97.6 423.5,102.0 426.0,96.3Z M460.7,79.1 C465.8,76.8 471.7,76.2 478.5,77.3 C485.3,78.4 481.9,79.7 481.0,82.4 C480.2,85.1 481.9,84.8 476.0,85.4 C470.0,86.0 468.3,86.3 463.3,84.2 C458.2,82.0 455.6,81.4 460.7,79.1Z M489.4,84.6 C493.6,82.5 496.2,81.7 505.9,83.4 C515.7,85.1 514.0,85.5 518.6,89.7 C523.3,94.0 524.1,94.4 519.9,96.1 C515.7,97.8 514.8,96.9 505.9,94.8 C497.0,92.7 498.7,93.1 493.2,89.7 C487.7,86.3 485.2,86.8 489.4,84.6Z M528.9,88.6 C533.1,85.6 538.2,86.8 549.2,86.8 C560.2,86.8 557.2,86.3 561.9,88.6 C566.6,90.9 564.9,90.9 563.2,93.7 C561.5,96.4 565.7,96.0 556.8,96.7 C547.9,97.4 545.8,98.4 536.5,95.7 C527.2,93.0 524.6,91.5 528.9,88.6Z M574.7,95.3 C578.0,91.5 575.1,90.6 589.9,90.2 C604.7,89.8 614.9,90.6 619.1,94.0 C623.4,97.4 612.3,97.1 602.6,100.4 C592.9,103.6 597.5,103.2 589.9,103.7 C582.3,104.1 584.8,104.4 579.7,101.6 C574.7,98.8 571.3,99.1 574.7,95.3Z M462.1,95.6 C465.1,94.0 466.3,94.0 473.5,96.9 C480.7,99.9 479.5,99.0 483.7,104.5 C487.9,110.0 489.6,111.7 486.2,113.4 C482.9,115.1 480.7,113.4 473.5,109.6 C466.3,105.8 468.5,106.7 464.6,102.0 C460.8,97.3 459.1,97.3 462.1,95.6Z M495.8,105.0 C500.0,103.7 501.3,103.7 508.5,106.3 C515.7,108.8 514.8,108.4 517.4,112.6 C519.9,116.9 521.6,117.7 516.1,119.0 C510.6,120.3 507.6,119.4 500.9,116.4 C494.1,113.5 497.5,113.9 495.8,110.1 C494.1,106.3 491.5,106.3 495.8,105.0Z M527.7,109.7 C532.8,106.3 534.1,107.9 549.3,107.6 C564.6,107.4 566.7,106.4 573.5,108.9 C580.2,111.5 576.0,111.9 569.6,115.3 C563.3,118.7 566.3,118.2 554.4,119.1 C542.5,119.9 543.0,120.9 534.1,117.8 C525.2,114.7 522.6,113.1 527.7,109.7Z" fill="none" stroke="#2e2a2b" stroke-width="1.1" stroke-linejoin="round"/>
<path d="M365.4,730.0 C365.4,733.3 364.5,729.5 365.4,740.0 C366.3,750.5 364.8,746.3 368.0,761.6 C371.2,776.9 368.6,770.7 374.9,786.0 C381.2,801.3 376.6,793.3 387.0,807.6 C397.4,821.9 390.7,815.5 406.0,829.0 C421.3,842.5 412.3,837.1 433.0,848.0 C453.7,858.9 445.5,854.6 468.0,861.6 C490.5,868.6 480.6,865.9 500.5,869.0 C520.4,872.1 509.6,871.2 527.6,871.0 C545.6,870.8 533.9,872.4 554.6,868.4 C575.3,864.4 566.3,866.7 589.7,859.0 C613.1,851.3 604.2,856.2 624.9,845.4 C645.6,834.6 636.6,840.0 651.9,826.5 C667.2,813.0 660.4,820.2 670.8,804.9 C681.2,789.6 677.1,796.8 683.0,780.5 C688.9,764.2 686.2,769.5 688.4,756.0 C690.6,742.5 689.3,748.7 689.7,740.0 C690.1,731.3 689.7,733.3 689.7,730.0 L657.3,730.0 C657.3,733.3 657.7,732.2 657.3,740.0 C656.9,747.8 657.8,743.6 656.0,753.5 C654.2,763.4 656.0,759.9 651.9,769.7 C647.8,779.5 651.1,776.2 643.8,783.0 C636.5,789.8 639.9,787.7 630.0,790.0 C620.1,792.3 625.7,792.7 614.0,790.0 C602.3,787.3 607.7,787.9 595.0,782.0 C582.3,776.1 589.5,777.8 576.0,772.4 C562.5,767.0 568.9,768.8 554.6,765.7 C540.3,762.6 547.4,764.2 533.0,763.0 C518.6,761.8 525.8,760.7 511.4,762.0 C497.0,763.3 504.2,762.2 489.7,767.0 C475.2,771.8 482.4,770.2 468.0,776.5 C453.6,782.8 459.2,781.0 446.5,786.0 C433.8,791.0 439.9,791.0 430.0,791.4 C420.1,791.8 424.8,792.8 416.8,787.3 C408.8,781.8 411.9,785.4 406.0,775.0 C400.1,764.6 402.2,767.7 399.0,756.0 C395.8,744.3 397.3,748.7 396.5,740.0 C395.7,731.3 396.5,733.3 396.5,730.0Z M428.8,804.8 C432.2,800.7 437.7,801.0 449.1,797.2 C460.5,793.4 460.5,790.8 463.1,793.4 C465.6,795.9 461.0,798.6 456.7,804.8 C452.5,811.0 456.3,810.4 450.4,811.9 C444.5,813.4 446.1,811.7 438.9,809.4 C431.7,807.0 425.4,808.9 428.8,804.8Z M419.1,820.2 C420.8,817.7 421.6,816.8 430.5,819.0 C439.4,821.1 439.4,819.1 445.8,826.6 C452.1,834.0 452.1,838.8 449.6,841.3 C447.1,843.9 446.2,839.1 438.2,834.2 C430.1,829.3 431.8,831.2 425.5,826.6 C419.1,821.9 417.4,822.8 419.1,820.2Z M470.7,800.1 C470.7,795.7 471.6,793.5 479.6,786.1 C487.7,778.7 485.5,781.4 494.9,778.0 C504.2,774.6 503.7,773.2 507.6,775.9 C511.4,778.6 510.5,780.2 506.3,786.1 C502.1,792.0 503.7,789.3 494.9,793.7 C486.0,798.1 487.7,797.2 479.6,799.3 C471.6,801.4 470.7,804.5 470.7,800.1Z M515.6,772.8 C518.6,768.9 523.6,767.7 524.5,771.5 C525.3,775.3 521.1,780.4 518.1,784.2 C515.2,788.0 516.4,786.7 515.6,782.9 C514.7,779.1 512.6,776.6 515.6,772.8Z M526.9,783.2 C526.9,777.9 528.2,776.0 533.2,773.0 C538.3,770.0 537.9,770.9 542.1,774.3 C546.4,777.6 545.5,778.5 545.9,783.2 C546.4,787.8 547.6,786.4 543.4,788.2 C539.2,790.1 538.7,790.4 533.2,788.7 C527.7,787.0 526.9,788.4 526.9,783.2Z M553.4,778.2 C553.7,774.8 555.0,774.8 556.7,778.2 C558.4,781.5 558.8,784.9 558.5,788.3 C558.2,791.7 557.7,791.7 556.0,788.3 C554.3,784.9 553.2,781.5 553.4,778.2Z M566.1,778.6 C567.4,775.2 567.0,776.1 573.8,781.2 C580.5,786.3 581.0,787.1 586.5,793.9 C592.0,800.7 592.8,799.4 590.3,801.5 C587.7,803.6 585.6,803.6 578.8,800.2 C572.1,796.8 574.2,798.5 569.9,791.3 C565.7,784.1 564.9,782.0 566.1,778.6Z M509.1,798.1 C512.9,795.8 516.6,794.7 521.8,794.3 C527.1,793.9 526.6,794.5 524.9,796.9 C523.2,799.2 521.6,799.9 516.7,801.4 C511.9,803.0 512.9,802.5 510.4,801.4 C507.9,800.3 505.3,800.5 509.1,798.1Z M520.9,811.4 C520.9,808.3 519.2,806.9 528.5,803.8 C537.8,800.7 537.4,801.6 548.8,802.0 C560.2,802.5 558.5,802.2 562.8,805.1 C567.0,808.0 566.2,808.1 561.5,810.7 C556.9,813.2 559.8,811.9 548.8,812.7 C537.8,813.5 537.8,813.6 528.5,813.2 C519.2,812.8 520.9,814.6 520.9,811.4Z M465.5,820.7 C463.9,817.8 465.5,816.1 477.0,811.8 C488.4,807.6 489.9,808.0 499.8,808.0 C509.8,808.0 506.1,808.9 507.0,811.8 C507.8,814.8 510.7,813.9 502.4,816.9 C494.1,819.9 494.3,819.4 482.1,820.7 C469.8,822.0 467.2,823.7 465.5,820.7Z M600.0,798.4 C603.4,795.2 604.3,798.4 614.0,799.7 C623.7,801.0 627.6,799.3 629.2,802.3 C630.9,805.2 627.6,806.2 619.1,808.6 C610.6,811.0 610.2,812.8 603.8,809.4 C597.5,806.0 596.6,801.7 600.0,798.4Z M579.4,814.6 C582.4,810.5 583.7,812.1 589.6,813.3 C595.5,814.6 597.2,815.0 597.2,818.4 C597.2,821.8 595.1,821.1 589.6,823.5 C584.1,825.9 584.1,828.5 580.7,825.5 C577.3,822.6 576.5,818.7 579.4,814.6Z M559.0,822.6 C560.8,820.3 561.5,820.0 565.3,820.8 C569.1,821.7 570.4,822.4 570.4,825.1 C570.4,827.8 568.9,828.1 565.3,828.9 C561.8,829.8 561.8,829.8 559.7,827.7 C557.6,825.6 557.1,824.9 559.0,822.6Z M482.3,831.3 C487.4,829.1 496.3,825.4 502.7,826.3 C509.0,827.1 506.5,831.6 501.4,833.9 C496.3,836.2 493.8,834.0 487.4,833.1 C481.1,832.3 477.2,833.6 482.3,831.3Z M513.9,824.1 C517.7,820.3 517.3,822.8 527.9,822.8 C538.5,822.8 538.0,822.0 545.7,824.1 C553.3,826.2 550.7,825.8 550.7,829.2 C550.7,832.6 553.3,831.9 545.7,834.3 C538.0,836.6 537.6,836.3 527.9,836.3 C518.1,836.3 521.1,838.3 516.4,834.3 C511.8,830.2 510.1,827.9 513.9,824.1Z M601.3,833.1 C604.3,828.6 601.3,829.5 611.5,825.5 C621.7,821.5 626.7,819.5 631.8,821.2 C636.9,822.9 634.4,824.9 626.7,830.6 C619.1,836.3 617.0,835.4 609.0,838.2 C600.9,841.0 605.1,840.7 602.6,839.0 C600.1,837.3 598.4,837.6 601.3,833.1Z M456.1,831.4 C457.8,828.0 457.8,831.4 468.8,835.2 C479.8,839.0 478.1,837.8 489.1,842.8 C500.1,847.9 498.4,846.1 501.8,850.5 C505.2,854.9 506.9,854.8 499.3,856.1 C491.7,857.3 490.8,857.8 479.0,854.3 C467.1,850.7 471.3,853.0 463.7,845.4 C456.1,837.8 454.4,834.8 456.1,831.4Z M511.6,845.7 C511.2,842.5 512.5,842.7 515.4,846.3 C518.4,849.8 520.1,853.2 520.5,856.4 C521.0,859.6 519.7,859.5 516.7,855.9 C513.8,852.4 512.1,849.0 511.6,845.7Z M529.6,849.6 C531.3,846.2 531.8,847.5 538.5,846.3 C545.3,845.0 545.7,843.4 550.0,845.8 C554.2,848.1 553.4,849.6 551.2,853.4 C549.1,857.2 549.5,856.2 543.6,857.2 C537.7,858.2 538.1,859.0 533.5,856.4 C528.8,853.9 528.0,853.0 529.6,849.6Z M559.8,854.2 C556.4,851.7 558.9,849.2 566.1,844.1 C573.3,839.0 572.2,842.4 581.4,839.0 C590.5,835.6 591.0,832.2 593.6,833.9 C596.1,835.6 594.8,838.2 589.0,844.1 C583.2,850.0 586.0,848.3 576.3,851.7 C566.6,855.1 563.2,856.8 559.8,854.2Z" fill="url(#gBot)" fill-rule="evenodd"/>
<path d="M365.4,730.0 C365.4,733.3 364.5,729.5 365.4,740.0 C366.3,750.5 364.8,746.3 368.0,761.6 C371.2,776.9 368.6,770.7 374.9,786.0 C381.2,801.3 376.6,793.3 387.0,807.6 C397.4,821.9 390.7,815.5 406.0,829.0 C421.3,842.5 412.3,837.1 433.0,848.0 C453.7,858.9 445.5,854.6 468.0,861.6 C490.5,868.6 480.6,865.9 500.5,869.0 C520.4,872.1 509.6,871.2 527.6,871.0 C545.6,870.8 533.9,872.4 554.6,868.4 C575.3,864.4 566.3,866.7 589.7,859.0 C613.1,851.3 604.2,856.2 624.9,845.4 C645.6,834.6 636.6,840.0 651.9,826.5 C667.2,813.0 660.4,820.2 670.8,804.9 C681.2,789.6 677.1,796.8 683.0,780.5 C688.9,764.2 686.2,769.5 688.4,756.0 C690.6,742.5 689.3,748.7 689.7,740.0 C690.1,731.3 689.7,733.3 689.7,730.0 M657.3,730.0 C657.3,733.3 657.7,732.2 657.3,740.0 C656.9,747.8 657.8,743.6 656.0,753.5 C654.2,763.4 656.0,759.9 651.9,769.7 C647.8,779.5 651.1,776.2 643.8,783.0 C636.5,789.8 639.9,787.7 630.0,790.0 C620.1,792.3 625.7,792.7 614.0,790.0 C602.3,787.3 607.7,787.9 595.0,782.0 C582.3,776.1 589.5,777.8 576.0,772.4 C562.5,767.0 568.9,768.8 554.6,765.7 C540.3,762.6 547.4,764.2 533.0,763.0 C518.6,761.8 525.8,760.7 511.4,762.0 C497.0,763.3 504.2,762.2 489.7,767.0 C475.2,771.8 482.4,770.2 468.0,776.5 C453.6,782.8 459.2,781.0 446.5,786.0 C433.8,791.0 439.9,791.0 430.0,791.4 C420.1,791.8 424.8,792.8 416.8,787.3 C408.8,781.8 411.9,785.4 406.0,775.0 C400.1,764.6 402.2,767.7 399.0,756.0 C395.8,744.3 397.3,748.7 396.5,740.0 C395.7,731.3 396.5,733.3 396.5,730.0 M428.8,804.8 C432.2,800.7 437.7,801.0 449.1,797.2 C460.5,793.4 460.5,790.8 463.1,793.4 C465.6,795.9 461.0,798.6 456.7,804.8 C452.5,811.0 456.3,810.4 450.4,811.9 C444.5,813.4 446.1,811.7 438.9,809.4 C431.7,807.0 425.4,808.9 428.8,804.8Z M419.1,820.2 C420.8,817.7 421.6,816.8 430.5,819.0 C439.4,821.1 439.4,819.1 445.8,826.6 C452.1,834.0 452.1,838.8 449.6,841.3 C447.1,843.9 446.2,839.1 438.2,834.2 C430.1,829.3 431.8,831.2 425.5,826.6 C419.1,821.9 417.4,822.8 419.1,820.2Z M470.7,800.1 C470.7,795.7 471.6,793.5 479.6,786.1 C487.7,778.7 485.5,781.4 494.9,778.0 C504.2,774.6 503.7,773.2 507.6,775.9 C511.4,778.6 510.5,780.2 506.3,786.1 C502.1,792.0 503.7,789.3 494.9,793.7 C486.0,798.1 487.7,797.2 479.6,799.3 C471.6,801.4 470.7,804.5 470.7,800.1Z M515.6,772.8 C518.6,768.9 523.6,767.7 524.5,771.5 C525.3,775.3 521.1,780.4 518.1,784.2 C515.2,788.0 516.4,786.7 515.6,782.9 C514.7,779.1 512.6,776.6 515.6,772.8Z M526.9,783.2 C526.9,777.9 528.2,776.0 533.2,773.0 C538.3,770.0 537.9,770.9 542.1,774.3 C546.4,777.6 545.5,778.5 545.9,783.2 C546.4,787.8 547.6,786.4 543.4,788.2 C539.2,790.1 538.7,790.4 533.2,788.7 C527.7,787.0 526.9,788.4 526.9,783.2Z M553.4,778.2 C553.7,774.8 555.0,774.8 556.7,778.2 C558.4,781.5 558.8,784.9 558.5,788.3 C558.2,791.7 557.7,791.7 556.0,788.3 C554.3,784.9 553.2,781.5 553.4,778.2Z M566.1,778.6 C567.4,775.2 567.0,776.1 573.8,781.2 C580.5,786.3 581.0,787.1 586.5,793.9 C592.0,800.7 592.8,799.4 590.3,801.5 C587.7,803.6 585.6,803.6 578.8,800.2 C572.1,796.8 574.2,798.5 569.9,791.3 C565.7,784.1 564.9,782.0 566.1,778.6Z M509.1,798.1 C512.9,795.8 516.6,794.7 521.8,794.3 C527.1,793.9 526.6,794.5 524.9,796.9 C523.2,799.2 521.6,799.9 516.7,801.4 C511.9,803.0 512.9,802.5 510.4,801.4 C507.9,800.3 505.3,800.5 509.1,798.1Z M520.9,811.4 C520.9,808.3 519.2,806.9 528.5,803.8 C537.8,800.7 537.4,801.6 548.8,802.0 C560.2,802.5 558.5,802.2 562.8,805.1 C567.0,808.0 566.2,808.1 561.5,810.7 C556.9,813.2 559.8,811.9 548.8,812.7 C537.8,813.5 537.8,813.6 528.5,813.2 C519.2,812.8 520.9,814.6 520.9,811.4Z M465.5,820.7 C463.9,817.8 465.5,816.1 477.0,811.8 C488.4,807.6 489.9,808.0 499.8,808.0 C509.8,808.0 506.1,808.9 507.0,811.8 C507.8,814.8 510.7,813.9 502.4,816.9 C494.1,819.9 494.3,819.4 482.1,820.7 C469.8,822.0 467.2,823.7 465.5,820.7Z M600.0,798.4 C603.4,795.2 604.3,798.4 614.0,799.7 C623.7,801.0 627.6,799.3 629.2,802.3 C630.9,805.2 627.6,806.2 619.1,808.6 C610.6,811.0 610.2,812.8 603.8,809.4 C597.5,806.0 596.6,801.7 600.0,798.4Z M579.4,814.6 C582.4,810.5 583.7,812.1 589.6,813.3 C595.5,814.6 597.2,815.0 597.2,818.4 C597.2,821.8 595.1,821.1 589.6,823.5 C584.1,825.9 584.1,828.5 580.7,825.5 C577.3,822.6 576.5,818.7 579.4,814.6Z M559.0,822.6 C560.8,820.3 561.5,820.0 565.3,820.8 C569.1,821.7 570.4,822.4 570.4,825.1 C570.4,827.8 568.9,828.1 565.3,828.9 C561.8,829.8 561.8,829.8 559.7,827.7 C557.6,825.6 557.1,824.9 559.0,822.6Z M482.3,831.3 C487.4,829.1 496.3,825.4 502.7,826.3 C509.0,827.1 506.5,831.6 501.4,833.9 C496.3,836.2 493.8,834.0 487.4,833.1 C481.1,832.3 477.2,833.6 482.3,831.3Z M513.9,824.1 C517.7,820.3 517.3,822.8 527.9,822.8 C538.5,822.8 538.0,822.0 545.7,824.1 C553.3,826.2 550.7,825.8 550.7,829.2 C550.7,832.6 553.3,831.9 545.7,834.3 C538.0,836.6 537.6,836.3 527.9,836.3 C518.1,836.3 521.1,838.3 516.4,834.3 C511.8,830.2 510.1,827.9 513.9,824.1Z M601.3,833.1 C604.3,828.6 601.3,829.5 611.5,825.5 C621.7,821.5 626.7,819.5 631.8,821.2 C636.9,822.9 634.4,824.9 626.7,830.6 C619.1,836.3 617.0,835.4 609.0,838.2 C600.9,841.0 605.1,840.7 602.6,839.0 C600.1,837.3 598.4,837.6 601.3,833.1Z M456.1,831.4 C457.8,828.0 457.8,831.4 468.8,835.2 C479.8,839.0 478.1,837.8 489.1,842.8 C500.1,847.9 498.4,846.1 501.8,850.5 C505.2,854.9 506.9,854.8 499.3,856.1 C491.7,857.3 490.8,857.8 479.0,854.3 C467.1,850.7 471.3,853.0 463.7,845.4 C456.1,837.8 454.4,834.8 456.1,831.4Z M511.6,845.7 C511.2,842.5 512.5,842.7 515.4,846.3 C518.4,849.8 520.1,853.2 520.5,856.4 C521.0,859.6 519.7,859.5 516.7,855.9 C513.8,852.4 512.1,849.0 511.6,845.7Z M529.6,849.6 C531.3,846.2 531.8,847.5 538.5,846.3 C545.3,845.0 545.7,843.4 550.0,845.8 C554.2,848.1 553.4,849.6 551.2,853.4 C549.1,857.2 549.5,856.2 543.6,857.2 C537.7,858.2 538.1,859.0 533.5,856.4 C528.8,853.9 528.0,853.0 529.6,849.6Z M559.8,854.2 C556.4,851.7 558.9,849.2 566.1,844.1 C573.3,839.0 572.2,842.4 581.4,839.0 C590.5,835.6 591.0,832.2 593.6,833.9 C596.1,835.6 594.8,838.2 589.0,844.1 C583.2,850.0 586.0,848.3 576.3,851.7 C566.6,855.1 563.2,856.8 559.8,854.2Z" fill="none" stroke="#2e2a2b" stroke-width="1.1" stroke-linejoin="round"/>
<path d="M362.0,252.8 C359.3,252.8 359.7,252.8 354.0,252.8 C348.3,252.8 351.3,252.7 345.0,252.9 C338.7,253.1 344.8,252.5 335.0,253.5 C325.2,254.5 330.9,251.6 315.7,255.9 C300.5,260.2 306.0,256.7 289.3,266.4 C272.6,276.1 279.6,269.9 265.5,284.9 C251.4,299.9 257.6,292.8 247.0,311.3 C236.4,329.8 240.4,321.9 233.8,340.4 C227.2,358.9 229.8,349.2 227.2,366.8 C224.6,384.4 225.5,375.6 225.9,393.2 C226.3,410.8 225.0,403.0 228.5,419.7 C232.0,436.4 228.5,428.4 236.4,443.4 C244.3,458.4 240.0,452.3 252.3,464.6 C264.6,476.9 258.4,472.0 273.4,480.4 C288.4,488.8 281.3,486.0 297.2,489.7 C313.1,493.4 309.4,491.4 321.0,491.5 C332.6,491.6 328.3,490.5 332.0,490.0 L330.0,458.0 C327.9,458.4 329.3,459.8 323.6,459.3 C317.9,458.8 317.9,460.1 313.0,456.6 C308.1,453.1 309.0,455.7 309.0,448.7 C309.0,441.7 309.0,446.1 313.0,435.5 C317.0,424.9 316.6,429.3 321.0,417.0 C325.4,404.7 323.6,411.7 326.2,398.5 C328.8,385.3 328.0,392.4 328.9,377.4 C329.8,362.4 330.7,368.6 328.9,353.6 C327.1,338.6 328.0,345.7 323.6,332.5 C319.2,319.3 319.2,323.7 315.7,314.0 C312.2,304.3 313.0,310.0 313.0,303.4 C313.0,296.8 311.3,299.5 315.7,294.2 C320.1,288.9 319.4,290.5 326.2,287.6 C333.0,284.7 329.7,286.4 336.0,285.5 C342.3,284.6 339.0,285.1 345.0,284.9 C351.0,284.7 348.3,284.8 354.0,284.8 C359.7,284.8 359.3,284.8 362.0,284.8Z M265.0,296.4 C266.2,290.1 265.8,291.4 273.7,285.2 C281.6,279.0 282.8,279.4 288.6,277.7 C294.4,276.1 293.6,275.2 291.1,280.2 C288.6,285.2 288.2,284.8 281.1,292.6 C274.1,300.5 275.4,302.6 270.0,303.8 C264.6,305.0 263.8,302.6 265.0,296.4Z M238.4,352.4 C238.8,343.3 238.8,344.5 244.6,330.0 C250.4,315.6 250.8,314.3 255.8,308.9 C260.8,303.5 260.8,304.4 259.5,313.9 C258.3,323.4 257.5,323.0 252.1,337.5 C246.7,352.0 247.9,352.4 243.4,357.4 C238.8,362.3 238.0,361.5 238.4,352.4Z M252.7,355.6 C254.3,347.3 256.0,344.0 260.1,335.7 C264.3,327.5 264.3,327.5 265.1,330.8 C265.9,334.1 265.9,335.7 262.6,345.7 C259.3,355.6 258.5,357.3 255.2,360.6 C251.9,363.9 251.0,363.9 252.7,355.6Z M273.8,337.2 C273.4,329.8 273.0,331.0 276.3,322.3 C279.6,313.6 280.4,312.0 283.7,311.2 C287.0,310.3 286.6,310.3 286.2,319.9 C285.8,329.4 285.4,331.4 282.5,339.7 C279.6,348.0 280.4,345.5 277.5,344.7 C274.6,343.9 274.2,344.7 273.8,337.2Z M294.9,328.4 C292.4,323.4 292.0,318.5 293.6,306.0 C295.3,293.6 295.7,297.3 299.8,291.1 C304.0,284.9 304.4,284.1 306.1,287.4 C307.7,290.7 306.5,289.9 304.8,301.1 C303.2,312.2 304.4,311.8 301.1,320.9 C297.8,330.0 297.4,333.4 294.9,328.4Z M305.5,346.2 C306.3,335.8 306.3,336.6 309.2,332.5 C312.1,328.4 311.3,326.7 314.2,333.7 C317.1,340.8 317.1,341.2 317.9,353.6 C318.8,366.0 318.8,363.6 316.7,371.0 C314.6,378.5 315.0,378.5 311.7,376.0 C308.4,373.5 308.8,373.5 306.8,363.6 C304.7,353.6 304.7,356.5 305.5,346.2Z M287.1,351.0 C287.9,347.7 290.8,347.3 294.5,346.0 C298.2,344.8 297.0,343.5 298.2,347.3 C299.5,351.0 300.3,354.3 298.2,357.2 C296.2,360.1 295.8,358.0 292.0,356.0 C288.3,353.9 286.2,354.3 287.1,351.0Z M236.7,369.7 C237.5,366.4 239.1,367.3 241.6,369.7 C244.1,372.2 244.9,373.9 244.1,377.2 C243.3,380.5 241.6,382.2 239.1,379.7 C236.7,377.2 235.8,373.0 236.7,369.7Z M252.5,372.8 C252.1,365.4 253.0,365.4 255.0,370.3 C257.1,375.3 256.7,378.6 258.8,387.7 C260.8,396.8 262.1,396.0 261.2,397.7 C260.4,399.3 259.2,401.0 256.3,392.7 C253.4,384.4 253.0,380.3 252.5,372.8Z M263.3,372.5 C263.7,364.6 264.2,362.5 267.1,360.0 C269.9,357.6 269.1,358.4 272.0,365.0 C274.9,371.6 273.3,370.8 275.7,379.9 C278.2,389.0 280.3,387.8 279.5,392.3 C278.6,396.9 277.8,396.5 273.3,393.6 C268.7,390.7 269.1,390.7 265.8,383.6 C262.5,376.6 262.9,380.3 263.3,372.5Z M280.7,364.7 C279.0,358.5 279.9,359.3 284.4,361.0 C289.0,362.6 289.0,364.3 294.3,369.6 C299.7,375.0 299.3,372.5 300.6,377.1 C301.8,381.6 301.8,382.5 298.1,383.3 C294.3,384.1 295.2,385.8 289.4,379.6 C283.6,373.4 282.3,370.9 280.7,364.7Z M238.4,404.0 C238.8,395.7 239.6,395.3 243.3,391.6 C247.1,387.9 245.4,388.7 249.5,392.8 C253.7,397.0 252.9,395.3 255.7,404.0 C258.6,412.7 260.3,412.7 258.2,418.9 C256.2,425.1 254.9,423.5 249.5,422.6 C244.2,421.8 245.8,422.6 242.1,416.4 C238.4,410.2 237.9,412.3 238.4,404.0Z M285.5,404.9 C285.9,402.0 287.2,399.2 289.2,397.5 C291.3,395.8 292.1,397.1 291.7,400.0 C291.3,402.9 290.0,404.5 288.0,406.2 C285.9,407.8 285.1,407.8 285.5,404.9Z M307.0,408.6 C307.4,402.4 307.8,403.3 313.2,396.2 C318.5,389.2 320.6,385.9 323.1,387.5 C325.6,389.2 324.3,392.1 320.6,401.2 C316.9,410.3 316.5,412.4 311.9,414.9 C307.4,417.3 306.5,414.9 307.0,408.6Z M268.5,424.9 C268.5,416.2 269.3,417.4 272.2,412.5 C275.1,407.5 274.3,406.7 277.2,410.0 C280.1,413.3 280.9,414.1 280.9,422.4 C280.9,430.7 280.1,429.4 277.2,434.8 C274.3,440.2 275.1,441.8 272.2,438.5 C269.3,435.2 268.5,433.6 268.5,424.9Z M294.8,422.3 C295.7,416.1 296.1,414.4 298.6,411.1 C301.0,407.8 300.6,407.8 302.3,412.4 C303.9,416.9 303.9,417.7 303.5,424.8 C303.1,431.8 303.5,431.8 301.0,433.5 C298.6,435.1 298.1,433.5 296.1,429.7 C294.0,426.0 294.0,428.5 294.8,422.3Z M246.0,434.1 C247.7,431.7 251.0,429.6 254.7,428.3 C258.5,427.1 258.9,428.0 257.2,430.3 C255.6,432.6 253.5,434.1 249.8,435.3 C246.0,436.5 244.4,436.4 246.0,434.1Z M251.8,449.3 C250.6,443.1 251.8,443.5 255.5,443.1 C259.3,442.7 256.4,441.0 263.0,448.1 C269.6,455.1 269.6,455.9 275.4,464.2 C281.2,472.5 281.6,470.4 280.4,472.9 C279.1,475.4 278.7,475.4 271.7,471.7 C264.6,467.9 265.9,469.2 259.3,461.7 C252.6,454.3 253.1,455.5 251.8,449.3Z M280.6,446.4 C278.5,439.4 281.4,440.2 284.3,438.9 C287.2,437.7 285.6,436.9 289.3,442.7 C293.0,448.5 292.6,449.3 295.5,456.3 C298.4,463.4 299.6,462.5 298.0,463.8 C296.3,465.0 296.3,465.8 290.5,460.1 C284.7,454.3 282.7,453.4 280.6,446.4Z" fill="url(#gL)" fill-rule="evenodd"/>
<path d="M362.0,252.8 C359.3,252.8 359.7,252.8 354.0,252.8 C348.3,252.8 351.3,252.7 345.0,252.9 C338.7,253.1 344.8,252.5 335.0,253.5 C325.2,254.5 330.9,251.6 315.7,255.9 C300.5,260.2 306.0,256.7 289.3,266.4 C272.6,276.1 279.6,269.9 265.5,284.9 C251.4,299.9 257.6,292.8 247.0,311.3 C236.4,329.8 240.4,321.9 233.8,340.4 C227.2,358.9 229.8,349.2 227.2,366.8 C224.6,384.4 225.5,375.6 225.9,393.2 C226.3,410.8 225.0,403.0 228.5,419.7 C232.0,436.4 228.5,428.4 236.4,443.4 C244.3,458.4 240.0,452.3 252.3,464.6 C264.6,476.9 258.4,472.0 273.4,480.4 C288.4,488.8 281.3,486.0 297.2,489.7 C313.1,493.4 309.4,491.4 321.0,491.5 C332.6,491.6 328.3,490.5 332.0,490.0 M330.0,458.0 C327.9,458.4 329.3,459.8 323.6,459.3 C317.9,458.8 317.9,460.1 313.0,456.6 C308.1,453.1 309.0,455.7 309.0,448.7 C309.0,441.7 309.0,446.1 313.0,435.5 C317.0,424.9 316.6,429.3 321.0,417.0 C325.4,404.7 323.6,411.7 326.2,398.5 C328.8,385.3 328.0,392.4 328.9,377.4 C329.8,362.4 330.7,368.6 328.9,353.6 C327.1,338.6 328.0,345.7 323.6,332.5 C319.2,319.3 319.2,323.7 315.7,314.0 C312.2,304.3 313.0,310.0 313.0,303.4 C313.0,296.8 311.3,299.5 315.7,294.2 C320.1,288.9 319.4,290.5 326.2,287.6 C333.0,284.7 329.7,286.4 336.0,285.5 C342.3,284.6 339.0,285.1 345.0,284.9 C351.0,284.7 348.3,284.8 354.0,284.8 C359.7,284.8 359.3,284.8 362.0,284.8 M265.0,296.4 C266.2,290.1 265.8,291.4 273.7,285.2 C281.6,279.0 282.8,279.4 288.6,277.7 C294.4,276.1 293.6,275.2 291.1,280.2 C288.6,285.2 288.2,284.8 281.1,292.6 C274.1,300.5 275.4,302.6 270.0,303.8 C264.6,305.0 263.8,302.6 265.0,296.4Z M238.4,352.4 C238.8,343.3 238.8,344.5 244.6,330.0 C250.4,315.6 250.8,314.3 255.8,308.9 C260.8,303.5 260.8,304.4 259.5,313.9 C258.3,323.4 257.5,323.0 252.1,337.5 C246.7,352.0 247.9,352.4 243.4,357.4 C238.8,362.3 238.0,361.5 238.4,352.4Z M252.7,355.6 C254.3,347.3 256.0,344.0 260.1,335.7 C264.3,327.5 264.3,327.5 265.1,330.8 C265.9,334.1 265.9,335.7 262.6,345.7 C259.3,355.6 258.5,357.3 255.2,360.6 C251.9,363.9 251.0,363.9 252.7,355.6Z M273.8,337.2 C273.4,329.8 273.0,331.0 276.3,322.3 C279.6,313.6 280.4,312.0 283.7,311.2 C287.0,310.3 286.6,310.3 286.2,319.9 C285.8,329.4 285.4,331.4 282.5,339.7 C279.6,348.0 280.4,345.5 277.5,344.7 C274.6,343.9 274.2,344.7 273.8,337.2Z M294.9,328.4 C292.4,323.4 292.0,318.5 293.6,306.0 C295.3,293.6 295.7,297.3 299.8,291.1 C304.0,284.9 304.4,284.1 306.1,287.4 C307.7,290.7 306.5,289.9 304.8,301.1 C303.2,312.2 304.4,311.8 301.1,320.9 C297.8,330.0 297.4,333.4 294.9,328.4Z M305.5,346.2 C306.3,335.8 306.3,336.6 309.2,332.5 C312.1,328.4 311.3,326.7 314.2,333.7 C317.1,340.8 317.1,341.2 317.9,353.6 C318.8,366.0 318.8,363.6 316.7,371.0 C314.6,378.5 315.0,378.5 311.7,376.0 C308.4,373.5 308.8,373.5 306.8,363.6 C304.7,353.6 304.7,356.5 305.5,346.2Z M287.1,351.0 C287.9,347.7 290.8,347.3 294.5,346.0 C298.2,344.8 297.0,343.5 298.2,347.3 C299.5,351.0 300.3,354.3 298.2,357.2 C296.2,360.1 295.8,358.0 292.0,356.0 C288.3,353.9 286.2,354.3 287.1,351.0Z M236.7,369.7 C237.5,366.4 239.1,367.3 241.6,369.7 C244.1,372.2 244.9,373.9 244.1,377.2 C243.3,380.5 241.6,382.2 239.1,379.7 C236.7,377.2 235.8,373.0 236.7,369.7Z M252.5,372.8 C252.1,365.4 253.0,365.4 255.0,370.3 C257.1,375.3 256.7,378.6 258.8,387.7 C260.8,396.8 262.1,396.0 261.2,397.7 C260.4,399.3 259.2,401.0 256.3,392.7 C253.4,384.4 253.0,380.3 252.5,372.8Z M263.3,372.5 C263.7,364.6 264.2,362.5 267.1,360.0 C269.9,357.6 269.1,358.4 272.0,365.0 C274.9,371.6 273.3,370.8 275.7,379.9 C278.2,389.0 280.3,387.8 279.5,392.3 C278.6,396.9 277.8,396.5 273.3,393.6 C268.7,390.7 269.1,390.7 265.8,383.6 C262.5,376.6 262.9,380.3 263.3,372.5Z M280.7,364.7 C279.0,358.5 279.9,359.3 284.4,361.0 C289.0,362.6 289.0,364.3 294.3,369.6 C299.7,375.0 299.3,372.5 300.6,377.1 C301.8,381.6 301.8,382.5 298.1,383.3 C294.3,384.1 295.2,385.8 289.4,379.6 C283.6,373.4 282.3,370.9 280.7,364.7Z M238.4,404.0 C238.8,395.7 239.6,395.3 243.3,391.6 C247.1,387.9 245.4,388.7 249.5,392.8 C253.7,397.0 252.9,395.3 255.7,404.0 C258.6,412.7 260.3,412.7 258.2,418.9 C256.2,425.1 254.9,423.5 249.5,422.6 C244.2,421.8 245.8,422.6 242.1,416.4 C238.4,410.2 237.9,412.3 238.4,404.0Z M285.5,404.9 C285.9,402.0 287.2,399.2 289.2,397.5 C291.3,395.8 292.1,397.1 291.7,400.0 C291.3,402.9 290.0,404.5 288.0,406.2 C285.9,407.8 285.1,407.8 285.5,404.9Z M307.0,408.6 C307.4,402.4 307.8,403.3 313.2,396.2 C318.5,389.2 320.6,385.9 323.1,387.5 C325.6,389.2 324.3,392.1 320.6,401.2 C316.9,410.3 316.5,412.4 311.9,414.9 C307.4,417.3 306.5,414.9 307.0,408.6Z M268.5,424.9 C268.5,416.2 269.3,417.4 272.2,412.5 C275.1,407.5 274.3,406.7 277.2,410.0 C280.1,413.3 280.9,414.1 280.9,422.4 C280.9,430.7 280.1,429.4 277.2,434.8 C274.3,440.2 275.1,441.8 272.2,438.5 C269.3,435.2 268.5,433.6 268.5,424.9Z M294.8,422.3 C295.7,416.1 296.1,414.4 298.6,411.1 C301.0,407.8 300.6,407.8 302.3,412.4 C303.9,416.9 303.9,417.7 303.5,424.8 C303.1,431.8 303.5,431.8 301.0,433.5 C298.6,435.1 298.1,433.5 296.1,429.7 C294.0,426.0 294.0,428.5 294.8,422.3Z M246.0,434.1 C247.7,431.7 251.0,429.6 254.7,428.3 C258.5,427.1 258.9,428.0 257.2,430.3 C255.6,432.6 253.5,434.1 249.8,435.3 C246.0,436.5 244.4,436.4 246.0,434.1Z M251.8,449.3 C250.6,443.1 251.8,443.5 255.5,443.1 C259.3,442.7 256.4,441.0 263.0,448.1 C269.6,455.1 269.6,455.9 275.4,464.2 C281.2,472.5 281.6,470.4 280.4,472.9 C279.1,475.4 278.7,475.4 271.7,471.7 C264.6,467.9 265.9,469.2 259.3,461.7 C252.6,454.3 253.1,455.5 251.8,449.3Z M280.6,446.4 C278.5,439.4 281.4,440.2 284.3,438.9 C287.2,437.7 285.6,436.9 289.3,442.7 C293.0,448.5 292.6,449.3 295.5,456.3 C298.4,463.4 299.6,462.5 298.0,463.8 C296.3,465.0 296.3,465.8 290.5,460.1 C284.7,454.3 282.7,453.4 280.6,446.4Z" fill="none" stroke="#2e2a2b" stroke-width="1.1" stroke-linejoin="round"/>
<path d="M736.0,260.9 C739.5,260.6 736.6,259.5 746.5,260.0 C756.4,260.5 752.9,258.8 765.7,262.3 C778.5,265.8 772.1,262.8 784.9,270.6 C797.7,278.4 792.1,273.4 804.0,285.7 C815.9,298.0 810.9,292.1 820.5,307.6 C830.1,323.1 826.1,314.9 832.9,332.3 C839.7,349.7 837.1,341.4 841.0,359.7 C844.9,378.0 843.7,368.8 844.6,387.1 C845.5,405.4 845.9,396.3 843.8,414.6 C841.7,432.9 843.8,424.6 838.3,442.0 C832.8,459.4 836.1,452.1 827.4,466.7 C818.7,481.3 823.8,474.5 812.3,485.9 C800.8,497.3 806.8,493.2 793.0,501.0 C779.2,508.8 783.7,505.4 771.0,509.2 C758.3,513.0 760.3,511.3 755.0,512.4 L748.0,480.2 C752.1,478.9 754.3,480.8 760.2,476.3 C766.1,471.8 764.3,474.5 765.7,466.7 C767.1,458.9 767.1,463.1 764.3,453.0 C761.5,442.9 762.4,449.3 757.4,436.5 C752.4,423.7 753.6,429.2 749.2,414.6 C744.8,400.0 745.7,408.1 744.3,392.6 C742.9,377.1 742.9,385.4 745.0,368.0 C747.1,350.6 746.9,358.8 750.6,340.5 C754.3,322.2 755.1,326.3 756.0,313.0 C756.9,299.7 757.4,307.2 753.3,300.7 C749.2,294.2 749.5,296.4 743.7,293.6 C737.9,290.8 738.6,292.8 736.0,292.4Z M759.4,291.0 C758.0,285.4 758.5,285.4 763.5,288.2 C768.6,291.0 768.6,291.0 774.6,299.3 C780.6,307.6 780.6,305.7 781.5,313.1 C782.5,320.5 781.1,319.6 777.4,321.4 C773.7,323.3 773.7,324.2 770.5,318.7 C767.2,313.1 771.4,314.1 767.7,304.8 C764.0,295.6 760.8,296.5 759.4,291.0Z M777.2,283.5 C775.4,278.4 776.3,279.3 781.4,282.1 C786.4,284.9 784.1,282.6 792.4,291.8 C800.8,301.0 803.5,303.8 806.3,309.8 C809.1,315.8 807.2,313.9 800.8,309.8 C794.3,305.6 794.8,306.1 786.9,297.3 C779.1,288.6 779.1,288.6 777.2,283.5Z M804.8,319.9 C806.2,317.3 805.7,315.8 810.3,317.6 C815.0,319.5 815.4,321.0 818.6,325.4 C821.9,329.8 821.9,329.1 820.0,330.9 C818.2,332.8 817.7,332.8 813.1,330.9 C808.5,329.1 809.0,329.1 806.2,325.4 C803.4,321.7 803.4,322.4 804.8,319.9Z M790.0,337.2 C791.0,325.8 792.4,323.9 795.6,318.4 C798.8,312.8 797.4,313.4 799.7,320.6 C802.0,327.8 802.0,329.3 802.5,339.9 C803.0,350.6 804.3,348.3 801.1,352.4 C797.9,356.6 796.5,357.5 792.8,352.4 C789.1,347.3 789.1,348.5 790.0,337.2Z M759.1,348.7 C759.5,341.4 760.4,339.1 763.2,333.5 C766.0,328.0 765.1,328.9 767.4,332.1 C769.7,335.4 769.7,334.9 770.1,343.2 C770.6,351.5 771.5,352.9 768.7,357.1 C766.0,361.2 765.1,358.4 761.8,355.7 C758.6,352.9 758.6,356.1 759.1,348.7Z M778.0,348.7 C777.3,343.2 778.0,338.6 779.3,336.3 C780.7,334.0 781.5,336.3 782.1,341.8 C782.8,347.4 782.7,350.6 781.3,352.9 C779.9,355.2 778.6,354.3 778.0,348.7Z M812.3,346.2 C811.8,340.2 812.3,340.7 816.4,339.3 C820.6,337.9 820.3,337.5 824.7,342.1 C829.2,346.7 828.8,347.6 829.7,353.2 C830.6,358.7 831.5,357.3 827.5,358.7 C823.5,360.1 822.9,361.5 817.8,357.3 C812.7,353.2 812.7,352.2 812.3,346.2Z M819.4,365.3 C820.3,364.4 825.8,365.3 827.7,366.7 C829.5,368.1 827.7,369.9 824.9,369.5 C822.1,369.0 818.4,366.2 819.4,365.3Z M751.8,378.3 C750.4,368.6 751.4,367.3 754.6,361.7 C757.8,356.2 757.8,357.1 761.5,361.7 C765.2,366.3 764.3,365.4 765.7,375.6 C767.0,385.7 768.0,387.1 765.7,392.2 C763.3,397.3 763.3,395.4 758.7,390.8 C754.1,386.2 753.2,388.0 751.8,378.3Z M773.6,370.2 C773.6,361.9 774.1,363.3 776.4,366.1 C778.7,368.8 779.2,369.7 780.6,378.5 C782.0,387.3 782.0,388.2 780.6,392.4 C779.2,396.5 778.7,398.4 776.4,391.0 C774.1,383.6 773.6,378.5 773.6,370.2Z M787.1,369.9 C787.1,363.9 787.6,364.8 791.3,363.0 C795.0,361.1 795.0,359.3 798.2,364.4 C801.4,369.5 801.4,369.0 801.0,378.2 C800.5,387.4 800.0,391.1 796.8,392.1 C793.6,393.0 794.5,388.4 791.3,381.0 C788.0,373.6 787.1,375.9 787.1,369.9Z M807.5,373.0 C807.9,362.3 808.4,365.6 810.2,364.6 C812.1,363.7 812.5,361.0 813.0,370.2 C813.5,379.4 813.0,383.6 811.6,392.3 C810.2,401.1 810.2,402.9 808.8,396.5 C807.5,390.0 807.0,383.6 807.5,373.0Z M821.0,393.2 C821.4,383.9 821.0,384.4 825.1,379.3 C829.3,374.2 830.2,373.3 833.4,377.9 C836.7,382.6 835.8,383.0 834.8,393.2 C833.9,403.3 834.4,403.8 830.7,408.4 C827.0,413.0 827.0,412.1 823.8,407.0 C820.5,401.9 820.5,402.4 821.0,393.2Z M756.2,408.2 C756.2,402.5 755.8,403.0 760.4,402.1 C765.0,401.2 766.4,400.6 770.1,405.4 C773.8,410.2 772.4,409.1 771.5,416.5 C770.5,423.9 771.0,426.7 767.3,427.6 C763.6,428.5 764.1,425.7 760.4,419.3 C756.7,412.8 756.2,413.9 756.2,408.2Z M777.9,418.1 C777.3,415.8 778.2,412.1 779.3,412.6 C780.4,413.0 781.7,417.7 781.2,419.5 C780.8,421.3 778.6,420.4 777.9,418.1Z M787.1,408.3 C787.1,402.8 787.6,402.8 791.3,402.8 C795.0,402.8 794.5,401.9 798.2,408.3 C801.9,414.8 802.4,414.8 802.4,422.2 C802.4,429.6 801.9,431.4 798.2,430.5 C794.5,429.6 795.0,426.8 791.3,419.4 C787.6,412.0 787.1,413.9 787.1,408.3Z M808.9,428.2 C808.7,423.1 808.5,421.8 810.3,417.1 C812.1,412.5 813.5,411.6 814.5,414.4 C815.4,417.1 814.3,419.4 813.1,425.4 C811.9,431.4 812.2,431.4 810.9,432.4 C809.5,433.3 809.1,433.3 808.9,428.2Z M819.4,431.5 C819.7,426.9 817.9,427.3 821.6,424.6 C825.3,421.8 828.0,420.0 830.5,423.2 C832.9,426.4 830.9,428.7 829.1,434.3 C827.2,439.8 827.7,438.4 824.9,439.8 C822.1,441.2 822.6,441.2 820.8,438.4 C818.9,435.6 819.1,436.1 819.4,431.5Z M773.9,446.4 C773.4,436.7 773.4,438.6 776.7,433.9 C779.9,429.3 779.4,428.4 783.6,432.6 C787.7,436.7 787.7,438.1 789.1,446.4 C790.5,454.7 790.5,450.1 787.7,457.5 C785.0,464.9 784.0,466.7 780.8,468.6 C777.6,470.4 780.3,470.4 778.0,463.0 C775.7,455.6 774.3,456.1 773.9,446.4Z M795.1,478.0 C795.6,473.9 797.4,475.2 801.8,466.6 C806.1,458.1 801.7,458.7 808.1,452.2 C814.6,445.8 817.7,446.0 821.1,447.3 C824.6,448.5 822.3,448.8 818.4,456.1 C814.5,463.4 815.5,461.6 809.5,469.1 C803.5,476.7 805.2,475.9 800.4,478.8 C795.6,481.8 794.7,482.1 795.1,478.0Z" fill="url(#gR)" fill-rule="evenodd"/>
<path d="M736.0,260.9 C739.5,260.6 736.6,259.5 746.5,260.0 C756.4,260.5 752.9,258.8 765.7,262.3 C778.5,265.8 772.1,262.8 784.9,270.6 C797.7,278.4 792.1,273.4 804.0,285.7 C815.9,298.0 810.9,292.1 820.5,307.6 C830.1,323.1 826.1,314.9 832.9,332.3 C839.7,349.7 837.1,341.4 841.0,359.7 C844.9,378.0 843.7,368.8 844.6,387.1 C845.5,405.4 845.9,396.3 843.8,414.6 C841.7,432.9 843.8,424.6 838.3,442.0 C832.8,459.4 836.1,452.1 827.4,466.7 C818.7,481.3 823.8,474.5 812.3,485.9 C800.8,497.3 806.8,493.2 793.0,501.0 C779.2,508.8 783.7,505.4 771.0,509.2 C758.3,513.0 760.3,511.3 755.0,512.4 M748.0,480.2 C752.1,478.9 754.3,480.8 760.2,476.3 C766.1,471.8 764.3,474.5 765.7,466.7 C767.1,458.9 767.1,463.1 764.3,453.0 C761.5,442.9 762.4,449.3 757.4,436.5 C752.4,423.7 753.6,429.2 749.2,414.6 C744.8,400.0 745.7,408.1 744.3,392.6 C742.9,377.1 742.9,385.4 745.0,368.0 C747.1,350.6 746.9,358.8 750.6,340.5 C754.3,322.2 755.1,326.3 756.0,313.0 C756.9,299.7 757.4,307.2 753.3,300.7 C749.2,294.2 749.5,296.4 743.7,293.6 C737.9,290.8 738.6,292.8 736.0,292.4 M759.4,291.0 C758.0,285.4 758.5,285.4 763.5,288.2 C768.6,291.0 768.6,291.0 774.6,299.3 C780.6,307.6 780.6,305.7 781.5,313.1 C782.5,320.5 781.1,319.6 777.4,321.4 C773.7,323.3 773.7,324.2 770.5,318.7 C767.2,313.1 771.4,314.1 767.7,304.8 C764.0,295.6 760.8,296.5 759.4,291.0Z M777.2,283.5 C775.4,278.4 776.3,279.3 781.4,282.1 C786.4,284.9 784.1,282.6 792.4,291.8 C800.8,301.0 803.5,303.8 806.3,309.8 C809.1,315.8 807.2,313.9 800.8,309.8 C794.3,305.6 794.8,306.1 786.9,297.3 C779.1,288.6 779.1,288.6 777.2,283.5Z M804.8,319.9 C806.2,317.3 805.7,315.8 810.3,317.6 C815.0,319.5 815.4,321.0 818.6,325.4 C821.9,329.8 821.9,329.1 820.0,330.9 C818.2,332.8 817.7,332.8 813.1,330.9 C808.5,329.1 809.0,329.1 806.2,325.4 C803.4,321.7 803.4,322.4 804.8,319.9Z M790.0,337.2 C791.0,325.8 792.4,323.9 795.6,318.4 C798.8,312.8 797.4,313.4 799.7,320.6 C802.0,327.8 802.0,329.3 802.5,339.9 C803.0,350.6 804.3,348.3 801.1,352.4 C797.9,356.6 796.5,357.5 792.8,352.4 C789.1,347.3 789.1,348.5 790.0,337.2Z M759.1,348.7 C759.5,341.4 760.4,339.1 763.2,333.5 C766.0,328.0 765.1,328.9 767.4,332.1 C769.7,335.4 769.7,334.9 770.1,343.2 C770.6,351.5 771.5,352.9 768.7,357.1 C766.0,361.2 765.1,358.4 761.8,355.7 C758.6,352.9 758.6,356.1 759.1,348.7Z M778.0,348.7 C777.3,343.2 778.0,338.6 779.3,336.3 C780.7,334.0 781.5,336.3 782.1,341.8 C782.8,347.4 782.7,350.6 781.3,352.9 C779.9,355.2 778.6,354.3 778.0,348.7Z M812.3,346.2 C811.8,340.2 812.3,340.7 816.4,339.3 C820.6,337.9 820.3,337.5 824.7,342.1 C829.2,346.7 828.8,347.6 829.7,353.2 C830.6,358.7 831.5,357.3 827.5,358.7 C823.5,360.1 822.9,361.5 817.8,357.3 C812.7,353.2 812.7,352.2 812.3,346.2Z M819.4,365.3 C820.3,364.4 825.8,365.3 827.7,366.7 C829.5,368.1 827.7,369.9 824.9,369.5 C822.1,369.0 818.4,366.2 819.4,365.3Z M751.8,378.3 C750.4,368.6 751.4,367.3 754.6,361.7 C757.8,356.2 757.8,357.1 761.5,361.7 C765.2,366.3 764.3,365.4 765.7,375.6 C767.0,385.7 768.0,387.1 765.7,392.2 C763.3,397.3 763.3,395.4 758.7,390.8 C754.1,386.2 753.2,388.0 751.8,378.3Z M773.6,370.2 C773.6,361.9 774.1,363.3 776.4,366.1 C778.7,368.8 779.2,369.7 780.6,378.5 C782.0,387.3 782.0,388.2 780.6,392.4 C779.2,396.5 778.7,398.4 776.4,391.0 C774.1,383.6 773.6,378.5 773.6,370.2Z M787.1,369.9 C787.1,363.9 787.6,364.8 791.3,363.0 C795.0,361.1 795.0,359.3 798.2,364.4 C801.4,369.5 801.4,369.0 801.0,378.2 C800.5,387.4 800.0,391.1 796.8,392.1 C793.6,393.0 794.5,388.4 791.3,381.0 C788.0,373.6 787.1,375.9 787.1,369.9Z M807.5,373.0 C807.9,362.3 808.4,365.6 810.2,364.6 C812.1,363.7 812.5,361.0 813.0,370.2 C813.5,379.4 813.0,383.6 811.6,392.3 C810.2,401.1 810.2,402.9 808.8,396.5 C807.5,390.0 807.0,383.6 807.5,373.0Z M821.0,393.2 C821.4,383.9 821.0,384.4 825.1,379.3 C829.3,374.2 830.2,373.3 833.4,377.9 C836.7,382.6 835.8,383.0 834.8,393.2 C833.9,403.3 834.4,403.8 830.7,408.4 C827.0,413.0 827.0,412.1 823.8,407.0 C820.5,401.9 820.5,402.4 821.0,393.2Z M756.2,408.2 C756.2,402.5 755.8,403.0 760.4,402.1 C765.0,401.2 766.4,400.6 770.1,405.4 C773.8,410.2 772.4,409.1 771.5,416.5 C770.5,423.9 771.0,426.7 767.3,427.6 C763.6,428.5 764.1,425.7 760.4,419.3 C756.7,412.8 756.2,413.9 756.2,408.2Z M777.9,418.1 C777.3,415.8 778.2,412.1 779.3,412.6 C780.4,413.0 781.7,417.7 781.2,419.5 C780.8,421.3 778.6,420.4 777.9,418.1Z M787.1,408.3 C787.1,402.8 787.6,402.8 791.3,402.8 C795.0,402.8 794.5,401.9 798.2,408.3 C801.9,414.8 802.4,414.8 802.4,422.2 C802.4,429.6 801.9,431.4 798.2,430.5 C794.5,429.6 795.0,426.8 791.3,419.4 C787.6,412.0 787.1,413.9 787.1,408.3Z M808.9,428.2 C808.7,423.1 808.5,421.8 810.3,417.1 C812.1,412.5 813.5,411.6 814.5,414.4 C815.4,417.1 814.3,419.4 813.1,425.4 C811.9,431.4 812.2,431.4 810.9,432.4 C809.5,433.3 809.1,433.3 808.9,428.2Z M819.4,431.5 C819.7,426.9 817.9,427.3 821.6,424.6 C825.3,421.8 828.0,420.0 830.5,423.2 C832.9,426.4 830.9,428.7 829.1,434.3 C827.2,439.8 827.7,438.4 824.9,439.8 C822.1,441.2 822.6,441.2 820.8,438.4 C818.9,435.6 819.1,436.1 819.4,431.5Z M773.9,446.4 C773.4,436.7 773.4,438.6 776.7,433.9 C779.9,429.3 779.4,428.4 783.6,432.6 C787.7,436.7 787.7,438.1 789.1,446.4 C790.5,454.7 790.5,450.1 787.7,457.5 C785.0,464.9 784.0,466.7 780.8,468.6 C777.6,470.4 780.3,470.4 778.0,463.0 C775.7,455.6 774.3,456.1 773.9,446.4Z M795.1,478.0 C795.6,473.9 797.4,475.2 801.8,466.6 C806.1,458.1 801.7,458.7 808.1,452.2 C814.6,445.8 817.7,446.0 821.1,447.3 C824.6,448.5 822.3,448.8 818.4,456.1 C814.5,463.4 815.5,461.6 809.5,469.1 C803.5,476.7 805.2,475.9 800.4,478.8 C795.6,481.8 794.7,482.1 795.1,478.0Z" fill="none" stroke="#2e2a2b" stroke-width="1.1" stroke-linejoin="round"/>
<path d="M392.0,146.0 Q390.0,175.0 394.5,191.1" stroke="#dcdcdc" stroke-width="3.8" fill="none"/>
<path d="M398.7,206.0 L388.1,192.9 L401.0,189.3Z" fill="#dcdcdc"/>
<path d="M662.0,206.0 Q671.0,178.0 670.6,160.3" stroke="#dcdcdc" stroke-width="3.8" fill="none"/>
<path d="M670.3,144.8 L677.3,160.2 L663.9,160.4Z" fill="#dcdcdc"/>
<path d="M454.0,269.2 L411.5,269.2" stroke="#dcdcdc" stroke-width="3.8" fill="none"/>
<path d="M397.0,269.2 L412.5,262.5 L412.5,275.9Z" fill="#dcdcdc"/>
<path d="M635.4,323.8 L671.4,301.5" stroke="#dcdcdc" stroke-width="3.8" fill="none"/>
<path d="M683.7,293.8 L674.1,307.7 L667.0,296.3Z" fill="#dcdcdc"/>
<path d="M369.8,445.2 L394.8,412.2" stroke="#dcdcdc" stroke-width="3.8" fill="none"/>
<path d="M403.6,400.7 L399.6,417.1 L388.9,409.0Z" fill="#dcdcdc"/>
<path d="M708.5,485.5 L670.9,469.6" stroke="#dcdcdc" stroke-width="3.8" fill="none"/>
<path d="M657.5,464.0 L674.4,463.8 L669.2,476.2Z" fill="#dcdcdc"/>
<path d="M379.7,694.6 L379.7,652.5" stroke="#dcdcdc" stroke-width="3.8" fill="none"/>
<path d="M379.7,638.0 L386.4,653.5 L373.0,653.5Z" fill="#dcdcdc"/>
<path d="M674.2,638.0 L674.2,680.1" stroke="#dcdcdc" stroke-width="3.8" fill="none"/>
<path d="M674.2,694.6 L667.5,679.1 L680.9,679.1Z" fill="#dcdcdc"/>
<path d="M471.1,522.2 L490,572 Q498,586 504,582 Q508.3,580 508.1,570 L508.1,514" fill="none" stroke="#dcdcdc" stroke-width="4"/>
<path d="M507.6,493.5 L498.3,515.5 L517,515.5Z" fill="#dcdcdc"/>
<path d="M590.6,522.2 L572,572 Q565,586 560,582 Q555.7,580 555.9,570 L555.9,514" fill="none" stroke="#dcdcdc" stroke-width="4"/>
<path d="M555.9,493.5 L546.6,515.5 L565.3,515.5Z" fill="#dcdcdc"/>
<path d="M712,276.7 L924,276.7" stroke="#231f20" stroke-width="1.3" fill="none"/>
<path d="M863,379.5 L924,379.5" stroke="#231f20" stroke-width="1.3" fill="none"/>
<path d="M732,492.3 L924,492.3" stroke="#231f20" stroke-width="1.3" fill="none"/>
<path d="M125,380 L206,380" stroke="#231f20" stroke-width="1.3" fill="none"/>
<path d="M304,655 L470.6,553.7" stroke="#231f20" stroke-width="1.3" fill="none"/>
<path d="M564.2,553.7 L753,657.7" stroke="#231f20" stroke-width="1.3" fill="none"/>
<path d="M298.2,767.4 L383.6,767.4" stroke="#231f20" stroke-width="1.3" fill="none"/>
<path d="M668,767.6 L753,767.6" stroke="#231f20" stroke-width="1.3" fill="none"/>
<path d="M525.2,852 L525.2,905.8" stroke="#231f20" stroke-width="1.3" fill="none"/>
<rect x="895" y="825.6" width="48.7" height="48.1" fill="#d71920"/>
<rect x="895" y="890.5" width="48.7" height="48.1" fill="#4b92d3"/>
<g font-family="'Liberation Sans', 'Koh Santepheap', 'Noto Sans Khmer', 'Hanuman', sans-serif" font-size="27" fill="#231f20" stroke="#231f20" stroke-width="0.55" filter="url(#fT)">
<text x="942.0" y="284.0" textLength="86.8" lengthAdjust="spacingAndGlyphs">អាទែសួត</text>
<text x="942.0" y="384.4" textLength="116.6" lengthAdjust="spacingAndGlyphs">សួតខាងឆ្វេង</text>
<text x="941.5" y="497.4" textLength="71.4" lengthAdjust="spacingAndGlyphs">វ៉ែនសួត</text>
<text x="6.0" y="390.3" textLength="105.9" lengthAdjust="spacingAndGlyphs">សួតខាងស្តាំ</text>
<text x="88.7" y="666.7" textLength="203.3" lengthAdjust="spacingAndGlyphs">ផ្នែកខាងស្តាំនៃបេះដូង</text>
<text x="768.7" y="666.7" textLength="211.2" lengthAdjust="spacingAndGlyphs">ផ្នែកខាងឆ្វេងនៃបេះដូង</text>
<text x="187.1" y="775.1" textLength="96.6" lengthAdjust="spacingAndGlyphs">សរសៃវ៉ែន</text>
<text x="770.3" y="775.6" textLength="113.3" lengthAdjust="spacingAndGlyphs">សរសៃអាទែ</text>
<text x="443.7" y="940.0" textLength="168.5" lengthAdjust="spacingAndGlyphs">សរសៃបណ្តូរឧស្ម័ន</text>
<text x="960.5" y="859.7" textLength="270.5" lengthAdjust="spacingAndGlyphs">ឈាមក្រហមសំបូរអុកស៊ីសែន</text>
<text x="960.5" y="923.7" textLength="213.9" lengthAdjust="spacingAndGlyphs">ឈាមខ្មៅខ្វះអុកស៊ីសែន</text>
</g>
</svg>
</body>
</html>
